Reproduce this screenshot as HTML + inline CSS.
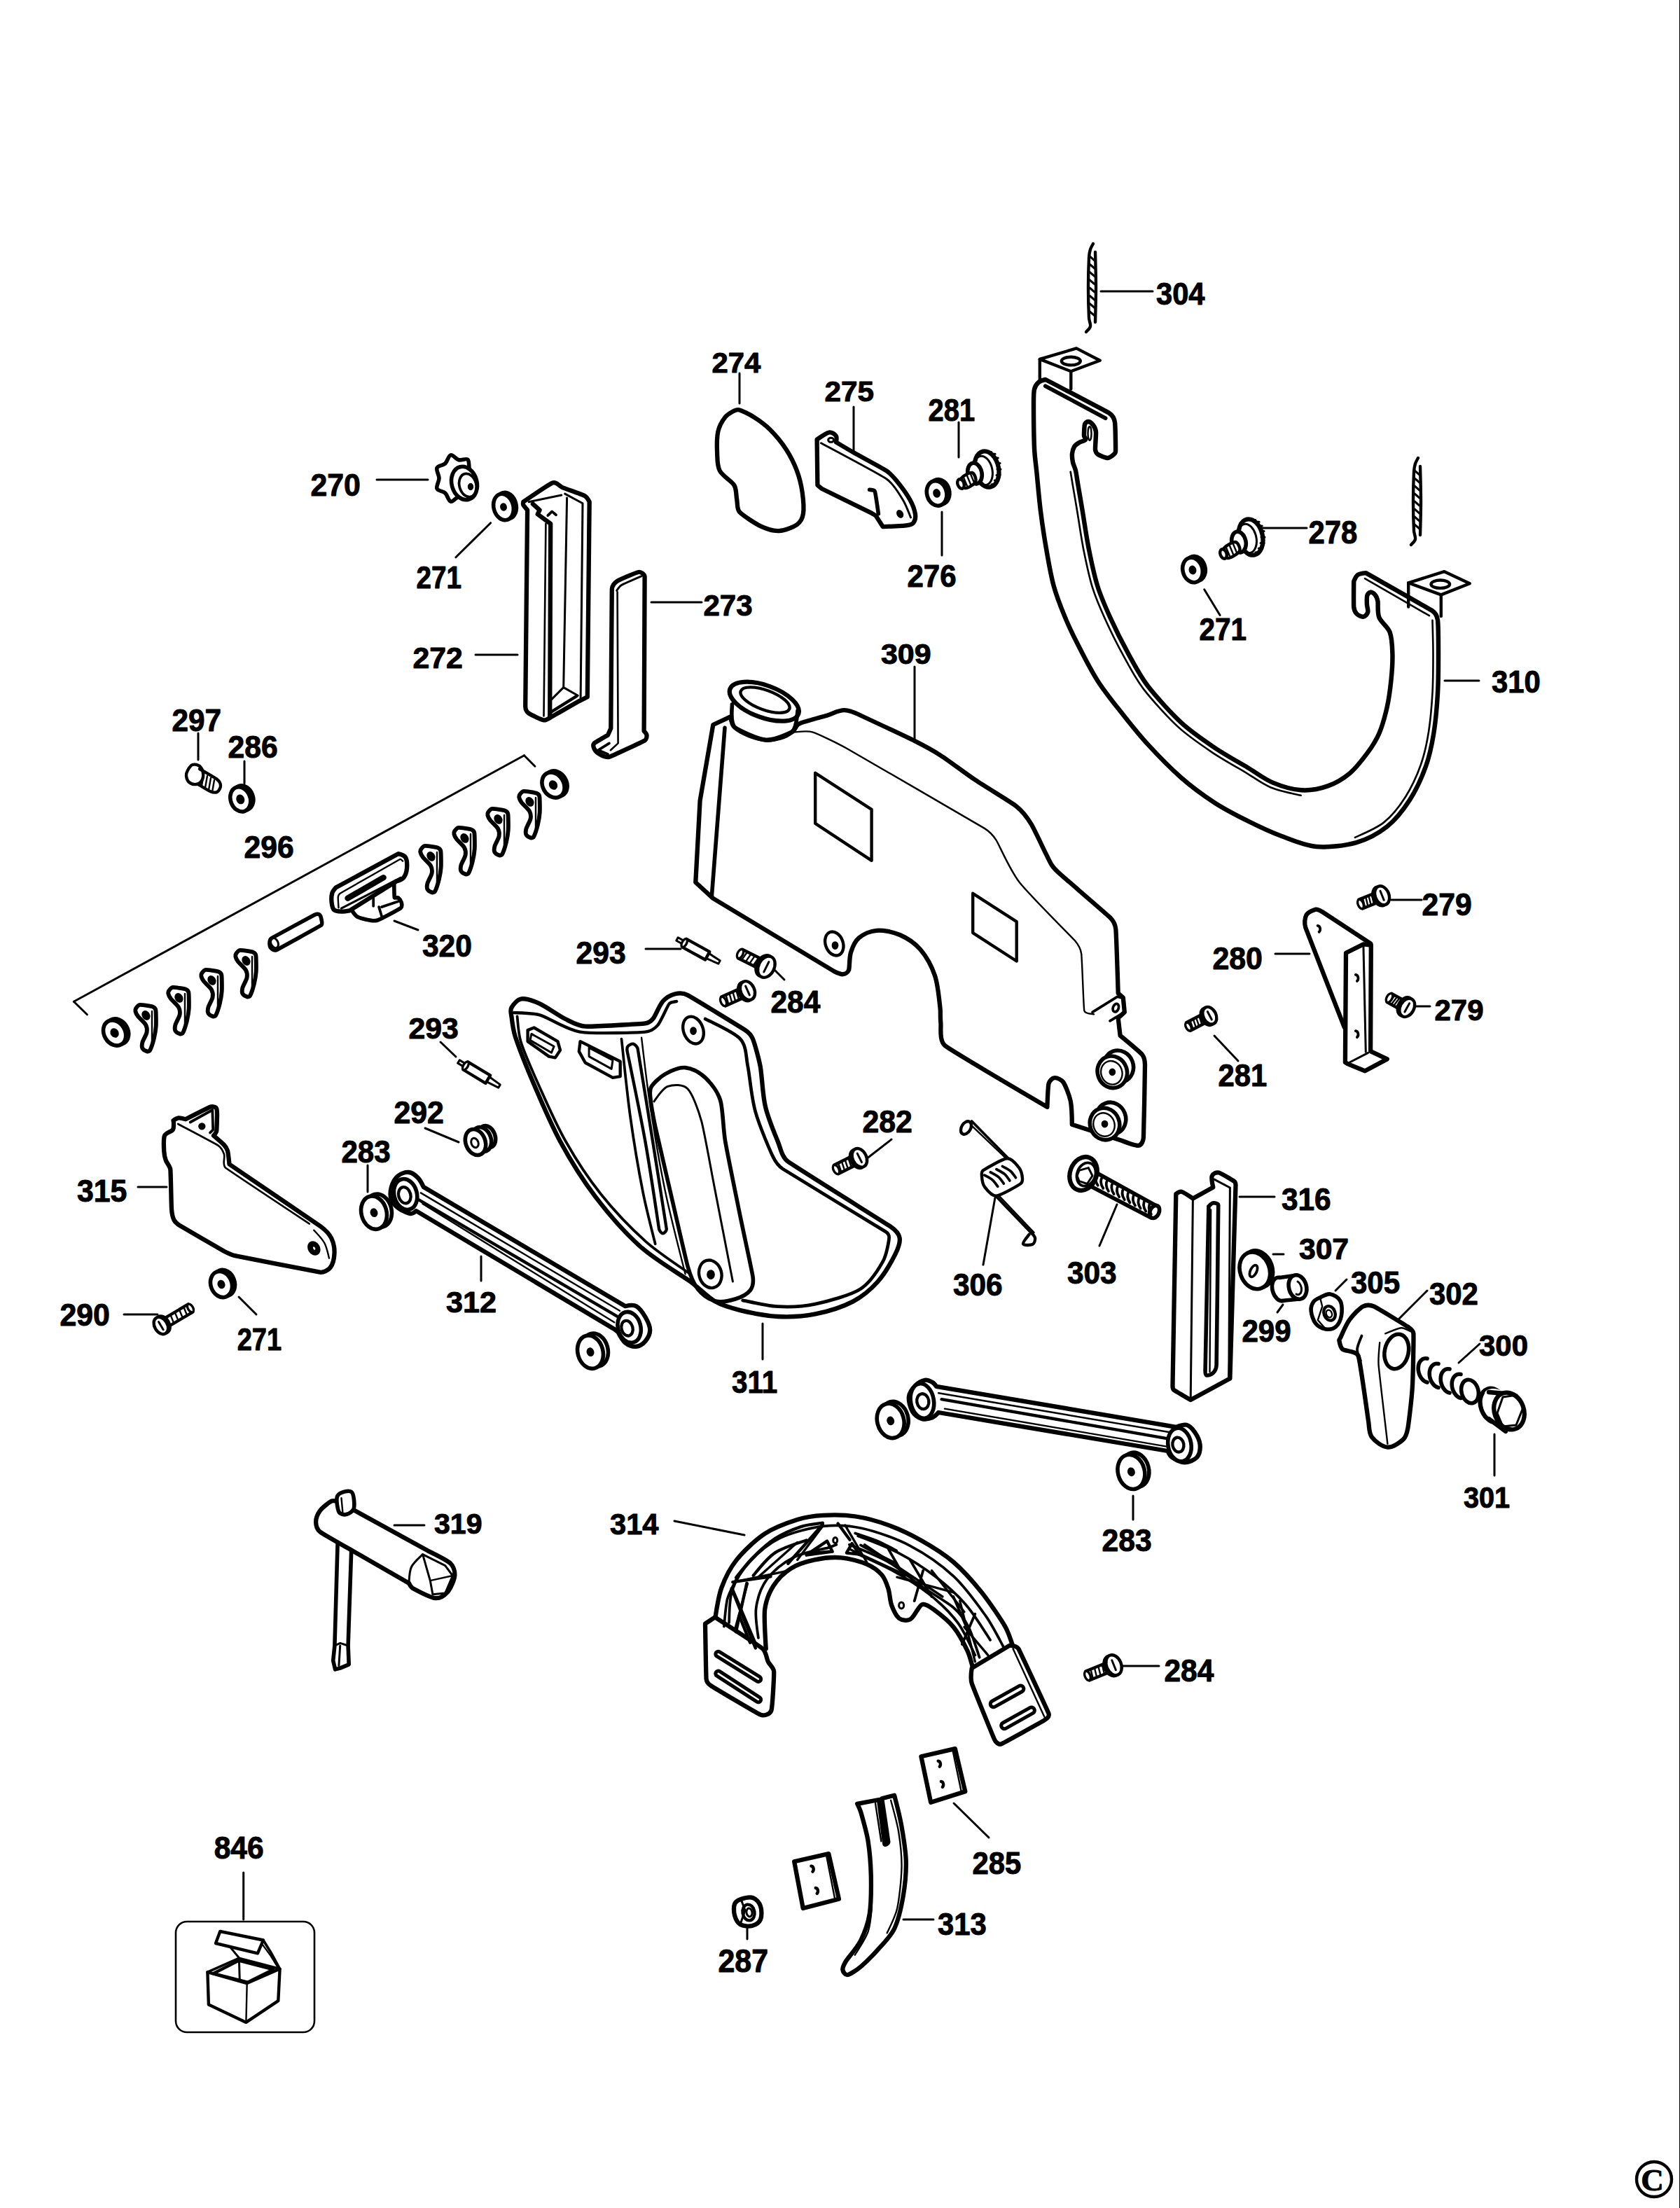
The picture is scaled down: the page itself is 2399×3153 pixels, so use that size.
<!DOCTYPE html>
<html><head><meta charset="utf-8"><style>
html,body{margin:0;padding:0;background:#fff;overflow:hidden}
svg{display:block}
text{font-family:"Liberation Sans",sans-serif;font-weight:bold;fill:#000}
</style></head><body>
<svg width="2399" height="3153" viewBox="0 0 2399 3153">
<rect width="2399" height="3153" fill="#fff"/>
<g stroke="#000" stroke-linejoin="round" stroke-linecap="round" fill="none">
<rect x="2398" y="0" width="1" height="3153" fill="#000" stroke="none"/>
<text transform="translate(1651.0,434.6) scale(0.953,1)" font-size="43.7">304</text>
<text transform="translate(1016.5,532.0) scale(1.010,1)" font-size="41.4">274</text>
<text transform="translate(1177.5,572.6) scale(1.037,1)" font-size="40.8">275</text>
<text transform="translate(1325.6,600.5) scale(0.885,1)" font-size="45.1">281</text>
<text transform="translate(443.5,707.5) scale(0.949,1)" font-size="45.1">270</text>
<text transform="translate(1868.5,775.5) scale(0.901,1)" font-size="46.5">278</text>
<text transform="translate(594.6,840.0) scale(0.872,1)" font-size="44.3">271</text>
<text transform="translate(1295.5,837.5) scale(0.932,1)" font-size="45.1">276</text>
<text transform="translate(1004.5,878.6) scale(0.994,1)" font-size="42.3">273</text>
<text transform="translate(1712.6,914.0) scale(0.914,1)" font-size="44.3">271</text>
<text transform="translate(589.5,954.0) scale(0.998,1)" font-size="42.9">272</text>
<text transform="translate(1257.9,947.6) scale(1.053,1)" font-size="40.8">309</text>
<text transform="translate(2130.0,988.5) scale(0.929,1)" font-size="45.1">310</text>
<text transform="translate(245.5,1043.5) scale(0.938,1)" font-size="45.1">297</text>
<text transform="translate(325.5,1081.5) scale(0.946,1)" font-size="45.1">286</text>
<text transform="translate(348.5,1224.6) scale(0.976,1)" font-size="43.7">296</text>
<text transform="translate(2030.5,1306.6) scale(0.976,1)" font-size="43.7">279</text>
<text transform="translate(602.9,1365.6) scale(0.973,1)" font-size="43.7">320</text>
<text transform="translate(822.5,1375.6) scale(0.976,1)" font-size="43.7">293</text>
<text transform="translate(1731.5,1383.6) scale(0.980,1)" font-size="43.7">280</text>
<text transform="translate(1100.5,1445.5) scale(0.942,1)" font-size="45.1">284</text>
<text transform="translate(2048.5,1456.6) scale(0.994,1)" font-size="42.3">279</text>
<text transform="translate(583.5,1482.6) scale(1.009,1)" font-size="42.3">293</text>
<text transform="translate(1739.5,1550.5) scale(0.926,1)" font-size="45.1">281</text>
<text transform="translate(562.5,1603.6) scale(0.980,1)" font-size="43.7">292</text>
<text transform="translate(1231.5,1616.5) scale(0.949,1)" font-size="45.1">282</text>
<text transform="translate(487.5,1659.6) scale(0.962,1)" font-size="43.7">283</text>
<text transform="translate(109.9,1715.6) scale(0.979,1)" font-size="43.7">315</text>
<text transform="translate(1829.9,1727.5) scale(0.940,1)" font-size="45.1">316</text>
<text transform="translate(1854.9,1797.6) scale(1.009,1)" font-size="42.3">307</text>
<text transform="translate(1523.9,1832.5) scale(0.940,1)" font-size="45.1">303</text>
<text transform="translate(1360.9,1849.5) scale(0.940,1)" font-size="45.1">306</text>
<text transform="translate(1928.9,1846.6) scale(0.964,1)" font-size="43.7">305</text>
<text transform="translate(2041.0,1862.6) scale(0.959,1)" font-size="43.7">302</text>
<text transform="translate(636.9,1873.6) scale(1.021,1)" font-size="42.3">312</text>
<text transform="translate(85.5,1892.6) scale(0.980,1)" font-size="43.7">290</text>
<text transform="translate(338.7,1928.0) scale(0.858,1)" font-size="44.3">271</text>
<text transform="translate(1773.5,1915.6) scale(0.962,1)" font-size="43.7">299</text>
<text transform="translate(2112.0,1935.6) scale(0.991,1)" font-size="42.3">300</text>
<text transform="translate(1045.0,1988.5) scale(0.896,1)" font-size="45.1">311</text>
<text transform="translate(2090.0,2152.6) scale(0.938,1)" font-size="42.3">301</text>
<text transform="translate(620.0,2189.6) scale(1.007,1)" font-size="40.8">319</text>
<text transform="translate(871.0,2190.6) scale(0.984,1)" font-size="42.3">314</text>
<text transform="translate(1573.5,2214.5) scale(0.946,1)" font-size="45.1">283</text>
<text transform="translate(1662.5,2400.5) scale(0.942,1)" font-size="45.1">284</text>
<text transform="translate(305.7,2653.5) scale(0.943,1)" font-size="45.1">846</text>
<text transform="translate(1388.5,2675.6) scale(0.956,1)" font-size="43.7">285</text>
<text transform="translate(1339.0,2762.6) scale(0.956,1)" font-size="43.7">313</text>
<text transform="translate(1025.5,2815.5) scale(0.923,1)" font-size="46.5">287</text>
<path d="M1477.0,556.0 C1477.9,552.2 1480.3,548.3 1483.0,546.0 C1485.7,543.7 1493.0,542.0 1493.0,542.0 C1493.0,542.0 1579.7,587.3 1584.0,590.0 C1588.3,592.7 1591.2,598.0 1592.0,603.0 C1592.8,608.0 1593.2,642.4 1593.0,645.0 C1592.8,647.6 1590.0,649.5 1588.0,651.0 C1586.0,652.5 1583.5,654.3 1581.0,654.0 C1578.5,653.7 1570.2,650.5 1568.0,649.0 C1565.8,647.5 1564.3,644.7 1564.0,642.0 C1563.7,639.3 1565.3,620.6 1565.0,617.0 C1564.7,613.4 1562.7,609.3 1561.0,607.0 C1559.3,604.7 1556.0,602.2 1554.0,602.0 C1552.0,601.8 1549.6,604.0 1549.0,606.0 C1548.4,608.0 1547.9,619.9 1548.0,622.0 C1548.1,624.1 1551.2,626.3 1550.0,628.0 C1548.8,629.7 1543.6,630.4 1541.0,632.0 C1538.4,633.6 1535.6,635.4 1534.0,638.0 C1532.4,640.6 1531.3,644.5 1531.0,648.0 C1530.7,651.5 1531.2,656.1 1532.0,660.0 C1532.8,663.9 1535.0,667.9 1536.0,672.0 C1537.0,676.1 1538.0,684.0 1539.0,690.0 C1540.0,696.0 1543.5,716.2 1545.7,729.3 C1547.9,742.4 1551.1,765.1 1554.6,782.9 C1558.1,800.7 1562.4,821.1 1567.1,836.4 C1571.8,851.7 1578.4,866.5 1585.0,881.1 C1591.6,895.7 1603.4,919.3 1611.8,934.6 C1620.2,949.9 1628.3,965.6 1639.0,979.5 C1649.7,993.4 1672.1,1018.4 1686.7,1031.9 C1701.3,1045.4 1719.0,1057.2 1734.3,1067.6 C1749.6,1078.0 1770.0,1089.1 1781.9,1096.2 C1793.8,1103.3 1804.9,1112.2 1817.6,1117.6 C1830.3,1122.9 1845.3,1127.5 1858.1,1128.3 C1870.9,1129.1 1884.8,1126.4 1896.2,1122.4 C1907.6,1118.4 1918.2,1111.9 1927.5,1104.2 C1936.8,1096.5 1945.7,1084.6 1952.3,1075.7 C1958.9,1066.8 1965.0,1057.4 1969.4,1047.2 C1973.8,1037.0 1978.0,1021.7 1980.8,1009.2 C1983.6,996.7 1985.2,983.7 1986.5,971.1 C1987.8,958.5 1988.7,943.3 1988.4,933.1 C1988.1,922.9 1987.6,910.8 1984.6,902.7 C1981.6,894.6 1972.2,888.9 1969.4,881.8 C1966.6,874.7 1968.1,862.3 1967.5,858.9 C1966.9,855.5 1965.3,851.4 1963.7,849.4 C1962.1,847.4 1958.9,845.4 1957.0,845.6 C1955.1,845.8 1952.9,848.3 1952.3,850.4 C1951.7,852.5 1951.8,858.8 1951.9,862.7 C1952.0,866.6 1954.1,871.2 1953.2,874.2 C1952.3,877.2 1949.3,880.5 1946.6,880.8 C1943.9,881.1 1939.2,878.5 1937.0,876.1 C1934.8,873.7 1933.5,870.0 1933.2,866.6 C1932.9,863.2 1933.2,830.4 1933.2,830.4 C1933.2,830.4 1936.0,822.9 1938.9,820.9 C1941.8,818.9 1950.4,818.1 1950.4,818.1 C1950.4,818.1 2041.1,869.5 2045.4,872.3 C2049.7,875.1 2052.3,880.5 2053.0,885.6 C2053.7,890.7 2054.0,917.3 2054.0,933.1 C2054.0,948.9 2054.1,971.1 2053.0,990.1 C2051.9,1009.1 2049.9,1031.1 2047.3,1047.2 C2044.7,1063.3 2041.4,1079.4 2035.9,1094.7 C2030.4,1110.0 2022.1,1128.3 2013.1,1142.3 C2004.1,1156.3 1993.5,1170.2 1980.8,1180.3 C1968.1,1190.4 1952.8,1198.6 1937.0,1203.1 C1921.2,1207.6 1897.5,1210.5 1880.0,1209.0 C1862.5,1207.5 1845.8,1199.9 1829.5,1193.8 C1813.2,1187.7 1797.5,1180.2 1781.9,1172.4 C1766.3,1164.6 1749.5,1156.1 1734.3,1146.2 C1719.1,1136.3 1701.6,1123.6 1686.7,1110.5 C1671.8,1097.4 1651.6,1076.6 1639.0,1062.9 C1626.4,1049.2 1614.8,1034.6 1603.3,1020.0 C1591.8,1005.4 1578.3,989.1 1567.6,972.4 C1556.9,955.7 1545.5,932.7 1539.0,920.0 C1532.5,907.3 1526.2,894.4 1520.7,881.1 C1515.2,867.8 1508.8,851.7 1504.6,836.4 C1500.4,821.1 1497.0,800.7 1493.9,782.9 C1490.8,765.1 1488.1,747.1 1485.9,729.3 C1483.7,711.5 1481.7,687.6 1480.5,675.7 C1479.3,663.8 1477.5,651.9 1477.0,640.0 C1476.5,628.1 1476.0,581.3 1476.0,575.0 C1476.0,568.7 1476.1,559.8 1477.0,556.0Z" stroke-width="6.4399999999999995" fill="none" />
<path d="M1528.7,673.7 C1529.0,675.5 1530.6,685.4 1531.6,691.3 C1532.6,697.1 1536.1,717.4 1538.3,730.5 C1540.5,743.6 1543.7,766.5 1547.2,784.4 C1550.8,802.2 1555.1,823.0 1559.9,838.6 C1564.8,854.3 1571.4,869.3 1578.2,884.2 C1584.9,899.1 1596.6,922.5 1605.2,938.2 C1613.8,953.9 1622.1,969.9 1633.1,984.1 C1644.0,998.2 1666.8,1023.7 1681.6,1037.4 C1696.4,1051.1 1714.7,1063.4 1730.1,1073.8 C1745.5,1084.3 1765.8,1095.3 1778.0,1102.6 C1790.2,1109.9 1801.6,1119.0 1814.7,1124.5 C1827.8,1130.0 1853.3,1134.7 1857.6,1135.8" stroke-width="2.64" fill="none" />
<path d="M2045.5,885.8 C2045.6,890.5 2046.5,917.3 2046.5,933.1 C2046.5,948.9 2046.6,970.8 2045.5,989.7 C2044.4,1008.5 2042.4,1030.4 2039.9,1046.0 C2037.4,1061.6 2034.2,1077.3 2028.8,1092.2 C2023.5,1107.1 2015.3,1124.9 2006.8,1138.2 C1998.3,1151.6 1988.1,1164.8 1976.1,1174.4 C1964.1,1184.0 1939.1,1193.7 1934.9,1195.9" stroke-width="2.64" fill="none" />
<path d="M1492.7,551.2 C1501.3,555.8 1570.1,592.6 1578.7,597.2" stroke-width="5.6" fill="none" />
<path d="M1949.0,826.2 C1958.2,831.5 2031.8,873.9 2041.0,879.2" stroke-width="2.64" fill="none" />
<ellipse cx="1556" cy="619" rx="2.5" ry="10" transform="rotate(0 1556 619)" stroke-width="2.4" fill="#fff"/>
<path d="M1484.8,512.9 L1537.1,497.4 L1570.7,514.8 L1529.3,530.3Z" stroke-width="4.375" fill="none" />
<line x1="1484.8" y1="512.9" x2="1484.8" y2="543.8" stroke-width="4.375"/>
<line x1="1529.3" y1="530.3" x2="1529.3" y2="555.4" stroke-width="4.375"/>
<ellipse cx="1529.3" cy="515.6" rx="13.5" ry="5.8" transform="rotate(0 1529.3 515.6)" stroke-width="4.375" fill="none"/>
<path d="M2011.2,832.3 L2062.5,816.2 L2098.7,833.3 L2057.8,849.4Z" stroke-width="4.375" fill="none" />
<line x1="2011.2" y1="832.3" x2="2011.2" y2="866.6" stroke-width="4.375"/>
<line x1="2057.8" y1="849.4" x2="2057.8" y2="879.9" stroke-width="4.375"/>
<ellipse cx="2056.8" cy="834.2" rx="13.3" ry="5.7" transform="rotate(0 2056.8 834.2)" stroke-width="4.375" fill="none"/>
<path d="M1018.3,1035.0 C1018.3,1035.0 1043.3,1023.3 1043.3,1023.3 C1043.3,1023.3 1044.9,1036.0 1049.6,1039.2 C1054.3,1042.3 1080.3,1055.7 1093.3,1056.7 C1106.3,1057.7 1126.5,1047.5 1130.8,1045.4 C1135.2,1043.3 1136.0,1036.8 1140.0,1034.2 C1144.0,1031.5 1150.5,1030.4 1155.8,1028.8 C1161.2,1027.1 1172.5,1024.1 1180.8,1021.7 C1189.1,1019.2 1197.5,1014.0 1205.8,1014.2 C1214.2,1014.3 1230.8,1022.5 1230.8,1022.5 C1230.8,1022.5 1293.0,1051.5 1305.8,1057.9 C1318.6,1064.3 1331.3,1071.0 1343.3,1078.8 C1355.4,1086.5 1376.4,1102.8 1393.3,1114.2 C1410.3,1125.6 1443.2,1144.9 1451.7,1151.7 C1460.2,1158.4 1466.9,1167.4 1472.5,1176.7 C1478.1,1186.0 1497.0,1227.5 1501.7,1235.0 C1506.3,1242.5 1513.8,1247.8 1520.4,1253.8 C1527.0,1259.7 1580.6,1305.6 1585.0,1310.0 C1589.4,1314.4 1592.7,1320.5 1593.3,1326.7 C1594.0,1332.8 1596.7,1418.3 1596.7,1418.3 C1596.7,1418.3 1603.8,1424.6 1603.8,1424.6 C1603.8,1424.6 1605.8,1445.4 1605.8,1445.4 C1605.8,1445.4 1596.7,1453.8 1596.7,1453.8 C1596.7,1453.8 1599.6,1478.8 1599.6,1478.8 C1599.6,1478.8 1627.6,1502.0 1630.8,1505.8 C1634.1,1509.7 1634.9,1515.4 1635.0,1520.4 C1635.1,1525.5 1633.3,1620.2 1632.9,1624.6 C1632.6,1629.0 1630.2,1635.2 1625.8,1635.8 C1621.4,1636.4 1601.7,1628.8 1601.7,1628.8 C1601.7,1628.8 1530.8,1605.8 1530.8,1605.8 C1530.8,1605.8 1530.7,1582.0 1528.8,1572.5 C1526.8,1563.0 1521.0,1549.3 1518.3,1545.4 C1515.7,1541.6 1509.3,1538.8 1505.8,1539.2 C1502.4,1539.5 1498.5,1543.7 1497.5,1547.5 C1496.5,1551.3 1495.4,1580.8 1495.4,1580.8 C1495.4,1580.8 1358.4,1500.4 1349.6,1493.3 C1340.7,1486.3 1344.2,1466.9 1343.3,1460.0 C1342.4,1453.1 1343.4,1446.1 1342.5,1439.2 C1341.6,1432.3 1339.6,1406.9 1335.0,1393.3 C1330.4,1379.8 1321.9,1364.9 1314.2,1355.8 C1306.4,1346.8 1295.4,1339.5 1285.0,1335.0 C1274.6,1330.5 1260.7,1328.1 1251.7,1328.8 C1242.7,1329.4 1232.7,1334.0 1226.7,1339.2 C1220.6,1344.3 1217.4,1352.4 1215.0,1360.0 C1212.6,1367.6 1213.3,1381.7 1212.1,1385.0 C1210.9,1388.3 1207.2,1390.9 1203.8,1391.2 C1200.3,1391.6 1191.2,1387.1 1191.2,1387.1 C1191.2,1387.1 1018.3,1282.9 1018.3,1282.9 C1018.3,1282.9 993.3,1260.0 993.3,1260.0 C993.3,1260.0 999.6,1143.3 999.6,1143.3 C999.6,1143.3 1018.3,1035.0 1018.3,1035.0Z" stroke-width="6.3" fill="none" />
<ellipse cx="1091.3" cy="1001.7" rx="52" ry="23" transform="rotate(20 1091.3 1001.7)" stroke-width="6.3" fill="#fff"/>
<ellipse cx="1092.5" cy="999.6" rx="37" ry="14" transform="rotate(20 1092.5 999.6)" stroke-width="4.375" fill="none"/>
<path d="M1045.4,1005.8 C1045.8,1009.2 1041.9,1031.0 1049.6,1039.2 C1057.3,1047.3 1080.3,1055.7 1093.3,1056.7 C1106.3,1057.7 1123.2,1052.5 1130.8,1045.4 C1138.5,1038.3 1138.3,1017.3 1139.2,1014.2" stroke-width="5.6" fill="none" />
<line x1="1035.0" y1="1039.1666666666667" x2="1016.25" y2="1280.8333333333335" stroke-width="5.6"/>
<path d="M1135.0,1045.4 C1137.5,1045.4 1152.1,1042.9 1160.0,1045.4 C1167.9,1047.9 1193.9,1060.2 1210.0,1069.2 C1226.1,1078.2 1399.1,1178.8 1405.8,1182.9 C1412.5,1187.0 1418.2,1193.0 1422.5,1199.6 C1426.8,1206.2 1441.7,1241.9 1455.8,1260.0 C1470.0,1278.1 1530.4,1338.1 1535.0,1343.3 C1539.6,1348.6 1543.2,1355.2 1544.2,1362.1 C1545.1,1369.0 1547.3,1438.6 1548.3,1443.3 C1549.3,1448.1 1560.7,1447.8 1562.1,1448.3" stroke-width="2.4" fill="none" />
<path d="M1164.2,1103.8 L1244.6,1155.8 L1244.6,1228.8 L1164.2,1175.8Z" stroke-width="4.375" fill="none" />
<path d="M1389.2,1275.8 L1451.7,1316.2 L1451.7,1372.5 L1389.2,1332.1Z" stroke-width="4.375" fill="none" />
<ellipse cx="1191.3" cy="1347.5" rx="12.5" ry="17.5" transform="rotate(-20 1191.3 1347.5)" stroke-width="4.375" fill="none"/>
<ellipse cx="1192.5" cy="1350" rx="3" ry="4" transform="rotate(0 1192.5 1350)" stroke-width="3.75" fill="#000"/>
<ellipse cx="1597.3333333333335" cy="1522.8333333333335" rx="21" ry="23" transform="rotate(-20 1597.3333333333335 1522.8333333333335)" stroke-width="5.6" fill="#fff"/>
<ellipse cx="1588.3333333333335" cy="1530.8333333333335" rx="21" ry="23" transform="rotate(-20 1588.3333333333335 1530.8333333333335)" stroke-width="5.6" fill="#fff"/>
<ellipse cx="1587.3333333333335" cy="1531.8333333333335" rx="15" ry="17" transform="rotate(-20 1587.3333333333335 1531.8333333333335)" stroke-width="2.4" fill="none"/>
<ellipse cx="1588.3333333333335" cy="1530.8333333333335" rx="3" ry="3.5" transform="rotate(0 1588.3333333333335 1530.8333333333335)" stroke-width="3.75" fill="#000"/>
<ellipse cx="1586.5" cy="1597.0" rx="21" ry="23" transform="rotate(-20 1586.5 1597.0)" stroke-width="5.6" fill="#fff"/>
<ellipse cx="1577.5" cy="1605.0" rx="21" ry="23" transform="rotate(-20 1577.5 1605.0)" stroke-width="5.6" fill="#fff"/>
<ellipse cx="1576.5" cy="1606.0" rx="15" ry="17" transform="rotate(-20 1576.5 1606.0)" stroke-width="2.4" fill="none"/>
<ellipse cx="1577.5" cy="1605.0" rx="3" ry="3.5" transform="rotate(0 1577.5 1605.0)" stroke-width="3.75" fill="#000"/>
<path d="M1560.0,1445.4 L1595.4,1423.3 L1605.0,1425.8 L1605.8,1445.4 L1585.0,1457.9" stroke-width="3.75" fill="none" />
<ellipse cx="1593.3333333333335" cy="1439.1666666666667" rx="4" ry="6" transform="rotate(20 1593.3333333333335 1439.1666666666667)" stroke-width="3.75" fill="none"/>
<line x1="1572" y1="416" x2="1646" y2="416" stroke-width="3"/>
<line x1="1056" y1="533" x2="1056" y2="576" stroke-width="3"/>
<line x1="1219" y1="581" x2="1219" y2="645" stroke-width="3"/>
<line x1="1369" y1="603" x2="1369" y2="653" stroke-width="3"/>
<line x1="538" y1="685" x2="611" y2="685" stroke-width="3"/>
<line x1="1800" y1="754" x2="1866" y2="754" stroke-width="3"/>
<line x1="700.6" y1="746.7" x2="650.9" y2="795.8" stroke-width="3"/>
<line x1="1345" y1="731" x2="1345" y2="793" stroke-width="3"/>
<line x1="930" y1="860" x2="1002" y2="860" stroke-width="3"/>
<line x1="1719.7" y1="841.8" x2="1742.1" y2="878.5" stroke-width="3"/>
<line x1="679" y1="935" x2="739" y2="935" stroke-width="3"/>
<line x1="1306" y1="952" x2="1306" y2="1058" stroke-width="3"/>
<line x1="2063" y1="972" x2="2112" y2="972" stroke-width="3"/>
<line x1="283" y1="1047" x2="283" y2="1085" stroke-width="3"/>
<line x1="349" y1="1087" x2="349" y2="1119" stroke-width="3"/>
<line x1="1987" y1="1285" x2="2030" y2="1285" stroke-width="3"/>
<line x1="563" y1="1315" x2="597" y2="1328" stroke-width="3"/>
<line x1="922" y1="1355" x2="972" y2="1355" stroke-width="3"/>
<line x1="1821" y1="1362" x2="1870" y2="1362" stroke-width="3"/>
<line x1="1106" y1="1385" x2="1120" y2="1399" stroke-width="3"/>
<line x1="2022" y1="1437" x2="2042" y2="1437" stroke-width="3"/>
<line x1="629" y1="1488" x2="651" y2="1509" stroke-width="3"/>
<line x1="1734" y1="1479" x2="1768" y2="1515" stroke-width="3"/>
<line x1="607" y1="1611" x2="655" y2="1631" stroke-width="3"/>
<line x1="1237" y1="1655" x2="1273" y2="1627" stroke-width="3"/>
<line x1="525" y1="1664" x2="525" y2="1702" stroke-width="3"/>
<line x1="197" y1="1695" x2="238" y2="1695" stroke-width="3"/>
<line x1="1770" y1="1709" x2="1820" y2="1709" stroke-width="3"/>
<line x1="1818" y1="1791" x2="1833" y2="1791" stroke-width="3"/>
<line x1="1595" y1="1720" x2="1570" y2="1779" stroke-width="3"/>
<line x1="1421" y1="1710" x2="1404" y2="1806" stroke-width="3"/>
<line x1="1907" y1="1843" x2="1923" y2="1827" stroke-width="3"/>
<line x1="2038" y1="1843" x2="1998" y2="1883" stroke-width="3"/>
<line x1="687" y1="1794" x2="687" y2="1829" stroke-width="3"/>
<line x1="177" y1="1877" x2="225" y2="1877" stroke-width="3"/>
<line x1="341" y1="1852" x2="366" y2="1877" stroke-width="3"/>
<line x1="1824" y1="1874" x2="1832" y2="1863" stroke-width="3"/>
<line x1="2083" y1="1946" x2="2113" y2="1919" stroke-width="3"/>
<line x1="1089" y1="1890" x2="1089" y2="1941" stroke-width="3"/>
<line x1="2134" y1="2048" x2="2134" y2="2107" stroke-width="3"/>
<line x1="563" y1="2178" x2="606" y2="2178" stroke-width="3"/>
<line x1="963" y1="2172" x2="1063" y2="2192" stroke-width="3"/>
<line x1="1618" y1="2136" x2="1618" y2="2170" stroke-width="3"/>
<line x1="1600" y1="2379" x2="1655" y2="2379" stroke-width="3"/>
<line x1="347.7" y1="2674" x2="347.7" y2="2741" stroke-width="3"/>
<line x1="1362" y1="2575" x2="1412" y2="2624" stroke-width="3"/>
<line x1="1290" y1="2741" x2="1333" y2="2741" stroke-width="3"/>
<line x1="1067" y1="2754" x2="1067" y2="2769" stroke-width="3"/>
<path d="M730.4,1438.9 C732.4,1435.3 738.4,1427.2 744.6,1426.4 C750.9,1425.6 763.0,1429.7 771.4,1433.6 C779.8,1437.4 798.0,1450.5 807.1,1455.0 C816.2,1459.5 825.6,1465.1 835.7,1465.7 C845.9,1466.3 917.0,1462.0 921.4,1461.4 C925.9,1460.9 930.1,1457.8 932.9,1454.3 C935.7,1450.8 941.8,1435.2 946.4,1430.0 C951.1,1424.8 958.5,1420.7 964.3,1419.3 C970.1,1417.8 976.8,1418.3 982.1,1421.1 C987.5,1423.8 1059.7,1468.0 1064.3,1471.1 C1068.8,1474.1 1072.9,1478.5 1075.0,1483.6 C1077.1,1488.6 1083.2,1509.5 1085.7,1522.9 C1088.2,1536.2 1088.8,1562.8 1092.9,1580.0 C1096.9,1597.2 1106.7,1620.1 1110.7,1630.0 C1114.7,1639.9 1116.5,1652.2 1125.0,1658.6 C1133.5,1665.0 1265.7,1747.5 1271.4,1751.4 C1277.2,1755.3 1283.5,1761.0 1284.6,1767.5 C1285.8,1774.0 1282.1,1783.6 1278.6,1790.7 C1275.0,1797.9 1263.7,1818.7 1253.6,1830.0 C1243.5,1841.3 1231.4,1851.5 1217.9,1858.6 C1204.3,1865.6 1181.8,1872.9 1164.3,1876.4 C1146.7,1879.9 1128.6,1880.9 1110.7,1880.0 C1092.9,1879.1 1069.4,1874.0 1057.1,1871.1 C1044.9,1868.1 1032.4,1864.9 1021.4,1858.6 C1010.5,1852.3 998.0,1839.0 985.7,1830.0 C973.4,1821.0 935.9,1799.4 914.3,1780.0 C892.6,1760.6 868.8,1733.3 850.0,1708.6 C831.2,1683.9 814.8,1657.3 800.0,1630.0 C785.2,1602.7 769.8,1565.4 760.7,1544.3 C751.7,1523.2 738.7,1489.2 735.7,1480.0 C732.7,1470.8 730.9,1455.6 730.4,1451.4 C729.8,1447.3 728.3,1442.5 730.4,1438.9Z" stroke-width="6.3" fill="none" />
<path d="M738.6,1451.4 C739.1,1455.0 740.0,1475.7 743.6,1487.1 C747.1,1498.6 759.6,1527.9 768.6,1547.9 C777.6,1567.8 793.0,1603.9 807.9,1630.0 C822.7,1656.1 839.1,1681.5 857.9,1705.0 C876.6,1728.5 902.6,1755.4 922.1,1772.9 C941.7,1790.3 979.4,1814.6 985.7,1819.3" stroke-width="3.75" fill="none" />
<path d="M733.9,1446.1 C737.7,1446.4 759.4,1446.1 771.4,1449.6 C783.5,1453.1 808.2,1470.3 828.6,1473.6 C849.0,1476.8 914.7,1474.2 921.4,1473.6 C928.2,1473.0 934.9,1469.1 939.3,1463.9 C943.7,1458.8 953.0,1436.5 955.4,1433.6 C957.7,1430.6 965.0,1430.4 966.1,1430.0" stroke-width="4.375" fill="none" />
<path d="M1007.1,1455.0 C1012.1,1457.9 1048.1,1473.5 1057.1,1483.6 C1066.2,1493.7 1065.1,1509.6 1067.9,1522.9 C1070.6,1536.1 1072.8,1566.2 1078.6,1587.1 C1084.4,1608.1 1100.3,1644.6 1103.6,1651.4 C1106.9,1658.3 1111.5,1665.1 1117.9,1669.3 C1124.2,1673.5 1261.4,1756.7 1264.3,1758.6 C1267.2,1760.5 1269.9,1764.0 1269.6,1767.5 C1269.4,1771.0 1266.4,1791.2 1260.7,1801.4 C1255.0,1811.6 1242.9,1831.7 1228.6,1840.7 C1214.3,1849.7 1181.8,1858.4 1164.3,1862.1 C1146.8,1865.9 1127.6,1866.6 1110.7,1865.7 C1093.8,1864.8 1065.7,1857.7 1060.7,1856.8" stroke-width="4.75" fill="none" />
<path d="M887.5,1483.6 C888.8,1494.6 895.0,1558.4 900.0,1594.3 C905.0,1630.1 912.9,1676.2 917.9,1701.4 C922.8,1726.6 933.9,1768.9 935.7,1776.4" stroke-width="3.75" fill="none" />
<path d="M916.1,1481.8 C917.3,1491.6 923.5,1547.4 928.6,1580.0 C933.6,1612.6 941.7,1661.9 950.0,1701.4 C958.3,1741.0 975.7,1807.5 978.6,1819.3" stroke-width="2.4" fill="none" />
<path d="M896.4,1494.3 C897.9,1492.5 901.9,1490.1 904.3,1490.7 C906.7,1491.3 910.1,1494.7 910.7,1497.9 C911.3,1501.0 925.5,1588.3 932.1,1630.0 C938.8,1671.7 951.5,1752.2 951.8,1755.0 C952.1,1757.8 948.2,1761.4 946.4,1761.4 C944.6,1761.4 941.6,1757.7 941.1,1755.0 C940.6,1752.3 928.9,1671.5 921.4,1630.0 C914.0,1588.5 896.1,1503.8 895.7,1501.4 C895.3,1499.1 895.0,1496.1 896.4,1494.3Z" stroke-width="4.375" fill="none" />
<path d="M930.4,1551.4 C933.0,1547.4 942.3,1537.9 950.0,1533.6 C957.7,1529.3 969.0,1523.8 978.6,1524.6 C988.1,1525.5 999.3,1531.7 1007.1,1538.9 C1014.9,1546.2 1024.7,1558.8 1028.6,1571.1 C1032.4,1583.4 1032.4,1610.5 1035.7,1630.0 C1039.1,1649.5 1051.3,1708.5 1057.1,1737.1 C1063.0,1765.7 1074.1,1816.3 1075.0,1822.9 C1075.9,1829.5 1075.5,1837.2 1071.4,1842.5 C1067.3,1847.8 1057.9,1852.6 1050.0,1855.0 C1042.1,1857.4 1030.4,1860.2 1021.4,1857.9 C1012.5,1855.5 1002.7,1848.6 996.4,1840.7 C990.1,1832.8 985.3,1819.9 982.1,1808.6 C979.0,1797.3 964.3,1732.4 957.1,1701.4 C950.0,1670.5 938.7,1622.7 935.7,1608.6 C932.7,1594.4 929.0,1570.5 928.6,1565.7 C928.1,1560.9 927.7,1555.4 930.4,1551.4Z" stroke-width="5.6" fill="none" />
<path d="M933.9,1572.9 C935.9,1570.7 945.5,1554.4 953.6,1551.4 C961.6,1548.5 975.5,1548.1 982.1,1555.0 C988.8,1561.9 997.4,1585.2 1001.8,1601.4 C1006.1,1617.7 1014.9,1668.1 1021.4,1701.4 C1027.9,1734.8 1043.9,1817.1 1046.4,1830.0" stroke-width="3.0" fill="none" />
<ellipse cx="1014.2857142857142" cy="1819.2857142857142" rx="16" ry="20" transform="rotate(-15 1014.2857142857142 1819.2857142857142)" stroke-width="4.375" fill="none"/>
<ellipse cx="1015.0" cy="1820.0" rx="4" ry="5" transform="rotate(0 1015.0 1820.0)" stroke-width="3.75" fill="#000"/>
<ellipse cx="990.0" cy="1471.0714285714287" rx="14" ry="20" transform="rotate(-20 990.0 1471.0714285714287)" stroke-width="4.375" fill="none"/>
<ellipse cx="990.0" cy="1472.142857142857" rx="3" ry="4" transform="rotate(0 990.0 1472.142857142857)" stroke-width="3.75" fill="#000"/>
<path d="M753.6,1471.1 L762.5,1467.5 L796.4,1487.1 L800.0,1499.6 L792.9,1510.4 L783.9,1508.6 L753.6,1487.1Z" stroke-width="4.375" fill="none" />
<path d="M758.9,1476.4 L791.1,1494.3 L787.5,1503.2 L757.1,1485.4Z" stroke-width="3.0" fill="none" />
<path d="M828.6,1487.1 L885.7,1515.7 L885.7,1537.1 L875.0,1538.9 L835.7,1517.5 L826.8,1501.4Z" stroke-width="4.375" fill="none" />
<path d="M841.1,1496.1 L875.0,1513.9 L873.2,1526.4 L841.1,1508.6Z" stroke-width="3.0" fill="none" />
<path d="M604.8,1695.0 C604.8,1695.0 892.9,1865.2 892.9,1865.2 C892.9,1865.2 904.0,1862.7 908.6,1865.2 C913.2,1867.8 918.4,1875.3 921.7,1881.0 C924.9,1886.6 928.2,1893.6 928.2,1899.3 C928.2,1905.0 924.9,1911.1 921.7,1915.0 C918.4,1918.9 913.4,1922.4 908.6,1922.9 C903.8,1923.3 897.2,1921.1 892.9,1917.6 C888.6,1914.2 882.4,1901.9 882.4,1901.9 C882.4,1901.9 877.2,1898.0 877.2,1898.0 C877.2,1898.0 594.3,1729.1 594.3,1729.1 C594.3,1729.1 589.3,1733.3 586.4,1733.0 C583.5,1732.7 575.3,1729.7 570.7,1726.4 C566.1,1723.2 560.9,1718.6 558.9,1713.3 C557.0,1708.1 557.4,1700.7 558.9,1695.0 C560.5,1689.3 564.0,1682.8 568.1,1679.3 C572.2,1675.8 579.0,1673.6 583.8,1674.0 C588.6,1674.5 593.4,1678.4 596.9,1681.9 C600.4,1685.4 604.8,1695.0 604.8,1695.0Z" stroke-width="6.3" fill="none" />
<path d="M600.8,1703.4 C629.3,1720.2 856.6,1855.0 885.0,1871.8" stroke-width="2.4" fill="none" />
<path d="M598.2,1713.3 C626.5,1730.0 852.8,1863.0 881.1,1879.7" stroke-width="4.375" fill="none" />
<path d="M603.5,1719.1 C630.8,1736.0 849.8,1871.4 877.2,1888.3" stroke-width="2.4" fill="none" />
<ellipse cx="579.0990047145102" cy="1705.4793085385018" rx="16.2" ry="22.3" transform="rotate(-15 579.0990047145102 1705.4793085385018)" stroke-width="5.6" fill="#fff"/>
<ellipse cx="577.7894185437402" cy="1706.788894709272" rx="8.6" ry="11.8" transform="rotate(-15 577.7894185437402 1706.788894709272)" stroke-width="4.375" fill="none"/>
<ellipse cx="898.6380303823992" cy="1895.369303300157" rx="16.2" ry="22.3" transform="rotate(-15 898.6380303823992 1895.369303300157)" stroke-width="5.6" fill="#fff"/>
<ellipse cx="895.4950235725511" cy="1896.678889470927" rx="8" ry="11" transform="rotate(-15 895.4950235725511 1896.678889470927)" stroke-width="4.375" fill="none"/>
<ellipse cx="541" cy="1728.7" rx="18" ry="24" transform="rotate(-15 541 1728.7)" stroke-width="5.6" fill="#fff"/>
<ellipse cx="534" cy="1731.7" rx="18" ry="24" transform="rotate(-15 534 1731.7)" stroke-width="5.6" fill="#fff"/>
<ellipse cx="534" cy="1731.7" rx="3.5" ry="4.55" transform="rotate(-15 534 1731.7)" stroke-width="3.75" fill="#000"/>
<ellipse cx="850" cy="1927.7" rx="18" ry="24" transform="rotate(-15 850 1927.7)" stroke-width="5.6" fill="#fff"/>
<ellipse cx="843" cy="1930.7" rx="18" ry="24" transform="rotate(-15 843 1930.7)" stroke-width="5.6" fill="#fff"/>
<ellipse cx="843" cy="1930.7" rx="3.5" ry="4.55" transform="rotate(-15 843 1930.7)" stroke-width="3.75" fill="#000"/>
<path d="M1337.1,1979.8 C1337.1,1979.8 1679.4,2037.8 1679.4,2037.8 C1679.4,2037.8 1689.8,2033.6 1694.3,2034.8 C1698.8,2036.1 1703.2,2040.9 1706.2,2045.2 C1709.2,2049.6 1713.1,2057.1 1713.6,2063.1 C1714.1,2069.0 1712.9,2076.7 1709.2,2081.0 C1705.4,2085.2 1697.3,2088.4 1691.3,2088.4 C1685.4,2088.4 1676.4,2083.0 1673.5,2081.0 C1670.5,2078.9 1667.5,2072.0 1667.5,2072.0 C1667.5,2072.0 1340.1,2017.0 1340.1,2017.0 C1340.1,2017.0 1334.8,2023.0 1331.2,2024.4 C1327.6,2025.8 1321.0,2027.4 1316.3,2025.9 C1311.6,2024.4 1305.8,2020.3 1302.9,2015.5 C1300.0,2010.6 1297.1,2000.8 1297.9,1994.6 C1298.6,1988.4 1303.8,1982.0 1307.4,1978.3 C1310.9,1974.6 1317.2,1971.5 1320.8,1970.8 C1324.3,1970.2 1328.7,1972.5 1331.2,1973.8 C1333.7,1975.2 1337.1,1979.8 1337.1,1979.8Z" stroke-width="6.3" fill="none" />
<path d="M1340.1,1989.3 C1373.5,1994.9 1640.1,2040.2 1673.5,2045.8" stroke-width="2.4" fill="none" />
<path d="M1344.6,1998.2 C1377.2,2003.9 1637.9,2049.1 1670.5,2054.8" stroke-width="4.375" fill="none" />
<path d="M1349.0,2011.6 C1381.0,2017.1 1637.0,2060.6 1669.0,2066.1" stroke-width="2.4" fill="none" />
<ellipse cx="1316.904761904762" cy="2000.595238095238" rx="16.5" ry="25" transform="rotate(-10 1316.904761904762 2000.595238095238)" stroke-width="5.6" fill="#fff"/>
<ellipse cx="1317.797619047619" cy="2001.1904761904761" rx="8.5" ry="11" transform="rotate(-10 1317.797619047619 2001.1904761904761)" stroke-width="4.375" fill="none"/>
<ellipse cx="1684.4642857142858" cy="2063.095238095238" rx="16.5" ry="24" transform="rotate(-10 1684.4642857142858 2063.095238095238)" stroke-width="5.6" fill="#fff"/>
<ellipse cx="1682.3809523809523" cy="2063.095238095238" rx="8" ry="10.5" transform="rotate(-10 1682.3809523809523 2063.095238095238)" stroke-width="4.375" fill="none"/>
<ellipse cx="1277.7" cy="2025.9" rx="19" ry="25" transform="rotate(-15 1277.7 2025.9)" stroke-width="5.6" fill="#fff"/>
<ellipse cx="1271.7" cy="2028.9" rx="19" ry="25" transform="rotate(-15 1271.7 2028.9)" stroke-width="5.6" fill="#fff"/>
<ellipse cx="1271.7" cy="2028.9" rx="3.5" ry="4.55" transform="rotate(-15 1271.7 2028.9)" stroke-width="3.75" fill="#000"/>
<ellipse cx="1621.4" cy="2098.8" rx="19" ry="25" transform="rotate(-15 1621.4 2098.8)" stroke-width="5.6" fill="#fff"/>
<ellipse cx="1615.4" cy="2101.8" rx="19" ry="25" transform="rotate(-15 1615.4 2101.8)" stroke-width="5.6" fill="#fff"/>
<ellipse cx="1615.4" cy="2101.8" rx="3.5" ry="4.55" transform="rotate(-15 1615.4 2101.8)" stroke-width="3.75" fill="#000"/>
<path d="M247.5,1600.0 C247.5,1600.0 252.2,1596.6 255.0,1596.3 C257.8,1596.1 265.0,1598.3 265.0,1598.3 C265.0,1598.3 297.4,1581.8 300.0,1580.8 C302.6,1579.8 306.7,1580.1 308.3,1581.7 C310.0,1583.2 309.9,1587.2 310.0,1590.0 C310.1,1592.8 309.6,1612.4 309.2,1615.0 C308.8,1617.6 305.0,1621.7 305.0,1621.7 C305.0,1621.7 317.8,1632.6 320.0,1635.0 C322.2,1637.4 324.1,1640.2 325.0,1643.3 C325.9,1646.5 327.5,1662.5 327.5,1662.5 C327.5,1662.5 452.3,1747.3 458.3,1751.7 C464.4,1756.1 470.1,1761.9 473.3,1768.3 C476.5,1774.7 477.8,1783.1 477.5,1790.0 C477.2,1796.9 475.0,1805.7 471.7,1810.0 C468.3,1814.3 462.1,1817.3 456.7,1816.7 C451.2,1816.0 342.5,1794.6 336.7,1793.3 C330.8,1792.1 325.3,1789.5 320.0,1786.7 C314.7,1783.8 260.0,1752.1 256.7,1750.0 C253.3,1747.9 250.1,1745.2 248.3,1741.7 C246.6,1738.2 245.4,1731.8 245.0,1726.7 C244.6,1721.6 243.9,1674.9 243.3,1670.0 C242.7,1665.1 238.1,1660.9 236.7,1656.7 C235.2,1652.4 234.4,1647.9 234.2,1643.3 C234.0,1638.8 233.2,1626.1 235.0,1621.7 C236.8,1617.3 244.7,1616.1 246.7,1613.3 C248.6,1610.6 247.9,1604.5 248.0,1603.3 C248.1,1602.2 247.5,1600.0 247.5,1600.0Z" stroke-width="6.3" fill="none" />
<path d="M254.2,1605.0 C259.9,1608.1 307.5,1633.1 311.7,1635.8 C315.8,1638.6 318.4,1643.6 320.0,1648.3 C321.6,1653.1 317.0,1663.4 322.0,1667.5 C327.0,1671.6 429.7,1739.5 441.7,1747.5" stroke-width="2.64" fill="none" />
<path d="M448.3,1756.7 C449.8,1758.5 459.7,1768.4 463.3,1775.0 C466.9,1781.6 469.3,1794.5 470.0,1796.7" stroke-width="2.4" fill="none" />
<path d="M271.7,1602.5 L303.3,1585.0 L304.2,1613.3 L300.0,1617.5" stroke-width="3.75" fill="none" />
<ellipse cx="288.3333333333333" cy="1608.3333333333333" rx="4" ry="4" transform="rotate(0 288.3333333333333 1608.3333333333333)" stroke-width="2.4" fill="#000"/>
<ellipse cx="448.33333333333337" cy="1782.5" rx="6.5" ry="8.5" transform="rotate(-30 448.33333333333337 1782.5)" stroke-width="4.375" fill="#000"/>
<ellipse cx="448.66666666666663" cy="1782.5" rx="2" ry="3" transform="rotate(-30 448.66666666666663 1782.5)" stroke-width="1.2" fill="#fff"/>
<line x1="105.4" y1="1430.3" x2="748.5" y2="1078.8" stroke-width="3"/>
<line x1="748.5" y1="1078.8" x2="763.9" y2="1094.2" stroke-width="3"/>
<line x1="105.4" y1="1430.3" x2="124.4" y2="1448.8" stroke-width="3"/>
<path d="M194.1,1439.9 C194.9,1438.7 197.4,1435.1 199.9,1434.9 C202.4,1434.7 216.4,1437.0 218.4,1437.7 C220.4,1438.4 222.1,1440.6 222.4,1442.7 C222.7,1444.8 223.1,1459.8 222.7,1465.6 C222.3,1471.4 221.3,1477.1 219.9,1482.7 C218.5,1488.3 214.8,1498.6 214.1,1499.9 C213.4,1501.2 211.3,1501.7 209.9,1501.3 C208.5,1500.9 204.5,1499.2 203.4,1497.0 C202.3,1494.8 202.7,1491.2 203.4,1488.4 C204.1,1485.6 208.9,1477.6 209.6,1474.1 C210.3,1470.6 209.8,1466.6 208.1,1463.4 C206.4,1460.2 198.6,1453.4 197.0,1451.3 C195.4,1449.2 193.7,1445.5 193.4,1444.1 C193.1,1442.7 193.3,1441.1 194.1,1439.9Z" stroke-width="5.88" fill="none" />
<line x1="217" y1="1444" x2="217" y2="1487" stroke-width="2.4"/>
<ellipse cx="208.4" cy="1449.9" rx="4.5" ry="6" transform="rotate(-30 208.4 1449.9)" stroke-width="2.4" fill="#000"/>
<path d="M241.1,1414.9 C241.9,1413.7 244.4,1410.1 246.9,1409.9 C249.4,1409.7 263.4,1412.0 265.4,1412.7 C267.4,1413.4 269.1,1415.6 269.4,1417.7 C269.7,1419.8 270.1,1434.8 269.7,1440.6 C269.3,1446.4 268.3,1452.1 266.9,1457.7 C265.5,1463.3 261.8,1473.6 261.1,1474.9 C260.4,1476.2 258.3,1476.7 256.9,1476.3 C255.5,1475.9 251.5,1474.2 250.4,1472.0 C249.3,1469.8 249.7,1466.2 250.4,1463.4 C251.1,1460.6 255.9,1452.6 256.6,1449.1 C257.3,1445.6 256.8,1441.6 255.1,1438.4 C253.4,1435.2 245.6,1428.4 244.0,1426.3 C242.4,1424.2 240.7,1420.5 240.4,1419.1 C240.1,1417.7 240.3,1416.1 241.1,1414.9Z" stroke-width="5.88" fill="none" />
<line x1="264" y1="1419" x2="264" y2="1462" stroke-width="2.4"/>
<ellipse cx="255.4" cy="1424.9" rx="4.5" ry="6" transform="rotate(-30 255.4 1424.9)" stroke-width="2.4" fill="#000"/>
<path d="M288.1,1389.9 C288.9,1388.7 291.4,1385.1 293.9,1384.9 C296.4,1384.7 310.4,1387.0 312.4,1387.7 C314.4,1388.4 316.1,1390.6 316.4,1392.7 C316.7,1394.8 317.1,1409.8 316.7,1415.6 C316.3,1421.4 315.3,1427.1 313.9,1432.7 C312.5,1438.3 308.8,1448.6 308.1,1449.9 C307.4,1451.2 305.3,1451.7 303.9,1451.3 C302.5,1450.9 298.5,1449.2 297.4,1447.0 C296.3,1444.8 296.7,1441.2 297.4,1438.4 C298.1,1435.6 302.9,1427.6 303.6,1424.1 C304.3,1420.6 303.8,1416.6 302.1,1413.4 C300.4,1410.2 292.6,1403.4 291.0,1401.3 C289.4,1399.2 287.7,1395.5 287.4,1394.1 C287.1,1392.7 287.3,1391.1 288.1,1389.9Z" stroke-width="5.88" fill="none" />
<line x1="311" y1="1394" x2="311" y2="1437" stroke-width="2.4"/>
<ellipse cx="302.4" cy="1399.9" rx="4.5" ry="6" transform="rotate(-30 302.4 1399.9)" stroke-width="2.4" fill="#000"/>
<path d="M337.1,1361.9 C337.9,1360.7 340.4,1357.1 342.9,1356.9 C345.4,1356.7 359.4,1359.0 361.4,1359.7 C363.4,1360.4 365.1,1362.6 365.4,1364.7 C365.7,1366.8 366.1,1381.8 365.7,1387.6 C365.3,1393.4 364.3,1399.1 362.9,1404.7 C361.5,1410.3 357.8,1420.6 357.1,1421.9 C356.4,1423.2 354.3,1423.7 352.9,1423.3 C351.5,1422.9 347.5,1421.2 346.4,1419.0 C345.3,1416.8 345.7,1413.2 346.4,1410.4 C347.1,1407.6 351.9,1399.6 352.6,1396.1 C353.3,1392.6 352.8,1388.6 351.1,1385.4 C349.4,1382.2 341.6,1375.4 340.0,1373.3 C338.4,1371.2 336.7,1367.5 336.4,1366.1 C336.1,1364.7 336.3,1363.1 337.1,1361.9Z" stroke-width="5.88" fill="none" />
<line x1="360" y1="1366" x2="360" y2="1409" stroke-width="2.4"/>
<ellipse cx="351.4" cy="1371.9" rx="4.5" ry="6" transform="rotate(-30 351.4 1371.9)" stroke-width="2.4" fill="#000"/>
<path d="M601.1,1212.9 C601.9,1211.7 604.4,1208.1 606.9,1207.9 C609.4,1207.7 623.4,1210.0 625.4,1210.7 C627.4,1211.4 629.1,1213.6 629.4,1215.7 C629.7,1217.8 630.1,1232.8 629.7,1238.6 C629.3,1244.4 628.3,1250.1 626.9,1255.7 C625.5,1261.3 621.8,1271.6 621.1,1272.9 C620.4,1274.2 618.3,1274.7 616.9,1274.3 C615.5,1273.9 611.5,1272.2 610.4,1270.0 C609.3,1267.8 609.7,1264.2 610.4,1261.4 C611.1,1258.6 615.9,1250.6 616.6,1247.1 C617.3,1243.6 616.8,1239.6 615.1,1236.4 C613.4,1233.2 605.6,1226.4 604.0,1224.3 C602.4,1222.2 600.7,1218.5 600.4,1217.1 C600.1,1215.7 600.3,1214.1 601.1,1212.9Z" stroke-width="5.88" fill="none" />
<line x1="624" y1="1217" x2="624" y2="1260" stroke-width="2.4"/>
<ellipse cx="615.4" cy="1222.9" rx="4.5" ry="6" transform="rotate(-30 615.4 1222.9)" stroke-width="2.4" fill="#000"/>
<path d="M649.1,1186.9 C649.9,1185.7 652.4,1182.1 654.9,1181.9 C657.4,1181.7 671.4,1184.0 673.4,1184.7 C675.4,1185.4 677.1,1187.6 677.4,1189.7 C677.7,1191.8 678.1,1206.8 677.7,1212.6 C677.3,1218.4 676.3,1224.1 674.9,1229.7 C673.5,1235.3 669.8,1245.6 669.1,1246.9 C668.4,1248.2 666.3,1248.7 664.9,1248.3 C663.5,1247.9 659.5,1246.2 658.4,1244.0 C657.3,1241.8 657.7,1238.2 658.4,1235.4 C659.1,1232.6 663.9,1224.6 664.6,1221.1 C665.3,1217.6 664.8,1213.6 663.1,1210.4 C661.4,1207.2 653.6,1200.4 652.0,1198.3 C650.4,1196.2 648.7,1192.5 648.4,1191.1 C648.1,1189.7 648.3,1188.1 649.1,1186.9Z" stroke-width="5.88" fill="none" />
<line x1="672" y1="1191" x2="672" y2="1234" stroke-width="2.4"/>
<ellipse cx="663.4" cy="1196.9" rx="4.5" ry="6" transform="rotate(-30 663.4 1196.9)" stroke-width="2.4" fill="#000"/>
<path d="M697.1,1159.9 C697.9,1158.7 700.4,1155.1 702.9,1154.9 C705.4,1154.7 719.4,1157.0 721.4,1157.7 C723.4,1158.4 725.1,1160.6 725.4,1162.7 C725.7,1164.8 726.1,1179.8 725.7,1185.6 C725.3,1191.4 724.3,1197.1 722.9,1202.7 C721.5,1208.3 717.8,1218.6 717.1,1219.9 C716.4,1221.2 714.3,1221.7 712.9,1221.3 C711.5,1220.9 707.5,1219.2 706.4,1217.0 C705.3,1214.8 705.7,1211.2 706.4,1208.4 C707.1,1205.6 711.9,1197.6 712.6,1194.1 C713.3,1190.6 712.8,1186.6 711.1,1183.4 C709.4,1180.2 701.6,1173.4 700.0,1171.3 C698.4,1169.2 696.7,1165.5 696.4,1164.1 C696.1,1162.7 696.3,1161.1 697.1,1159.9Z" stroke-width="5.88" fill="none" />
<line x1="720" y1="1164" x2="720" y2="1207" stroke-width="2.4"/>
<ellipse cx="711.4" cy="1169.9" rx="4.5" ry="6" transform="rotate(-30 711.4 1169.9)" stroke-width="2.4" fill="#000"/>
<path d="M742.1,1134.9 C742.9,1133.7 745.4,1130.1 747.9,1129.9 C750.4,1129.7 764.4,1132.0 766.4,1132.7 C768.4,1133.4 770.1,1135.6 770.4,1137.7 C770.7,1139.8 771.1,1154.8 770.7,1160.6 C770.3,1166.4 769.3,1172.1 767.9,1177.7 C766.5,1183.3 762.8,1193.6 762.1,1194.9 C761.4,1196.2 759.3,1196.7 757.9,1196.3 C756.5,1195.9 752.5,1194.2 751.4,1192.0 C750.3,1189.8 750.7,1186.2 751.4,1183.4 C752.1,1180.6 756.9,1172.6 757.6,1169.1 C758.3,1165.6 757.8,1161.6 756.1,1158.4 C754.4,1155.2 746.6,1148.4 745.0,1146.3 C743.4,1144.2 741.7,1140.5 741.4,1139.1 C741.1,1137.7 741.3,1136.1 742.1,1134.9Z" stroke-width="5.88" fill="none" />
<line x1="765" y1="1139" x2="765" y2="1182" stroke-width="2.4"/>
<ellipse cx="756.4" cy="1144.9" rx="4.5" ry="6" transform="rotate(-30 756.4 1144.9)" stroke-width="2.4" fill="#000"/>
<ellipse cx="167.6" cy="1473" rx="15" ry="19" transform="rotate(-30 167.6 1473)" stroke-width="5.6" fill="#fff"/>
<ellipse cx="163.6" cy="1475" rx="15" ry="19" transform="rotate(-30 163.6 1475)" stroke-width="5.6" fill="#fff"/>
<ellipse cx="163.6" cy="1475" rx="4" ry="5.2" transform="rotate(-30 163.6 1475)" stroke-width="3.75" fill="#000"/>
<ellipse cx="794" cy="1119" rx="15" ry="19" transform="rotate(-30 794 1119)" stroke-width="5.6" fill="#fff"/>
<ellipse cx="790" cy="1121" rx="15" ry="19" transform="rotate(-30 790 1121)" stroke-width="5.6" fill="#fff"/>
<ellipse cx="790" cy="1121" rx="4" ry="5.2" transform="rotate(-30 790 1121)" stroke-width="3.75" fill="#000"/>
<path d="M387.9,1339.6 C389.9,1338.4 447.4,1307.3 449.4,1306.3 C451.4,1305.3 454.4,1304.9 456.0,1306.0 C457.6,1307.1 458.6,1310.5 459.0,1313.0 C459.4,1315.5 460.9,1319.7 458.6,1321.3 C456.3,1322.9 396.8,1355.6 394.4,1356.7 C392.0,1357.8 388.6,1355.8 387.0,1354.0 C385.4,1352.2 384.9,1348.3 385.0,1346.0 C385.1,1343.7 385.9,1340.8 387.9,1339.6Z" stroke-width="5.6" fill="none" />
<ellipse cx="392" cy="1346.5" rx="5" ry="7.5" transform="rotate(-25 392 1346.5)" stroke-width="3.0" fill="none"/>
<path d="M501.8,1299.1 C502.7,1300.1 506.8,1307.5 511.0,1309.5 C515.1,1311.5 529.4,1314.8 534.5,1314.8 C539.6,1314.8 544.3,1311.7 548.9,1309.5 C553.5,1307.3 570.5,1298.2 572.5,1296.4 C574.5,1294.7 573.8,1291.0 573.2,1288.6 C572.5,1286.2 570.0,1283.1 568.6,1282.0 C567.2,1281.0 563.8,1283.1 563.3,1281.4 C562.9,1279.7 562.8,1261.9 562.7,1259.8" stroke-width="5.6" fill="none" />
<path d="M533.2,1275.5 L533.2,1293.8" stroke-width="3.75" fill="none" />
<path d="M541.1,1295.1 L545.0,1308.2" stroke-width="3.75" fill="none" />
<path d="M545.0,1295.1 L568.6,1287.3" stroke-width="3.75" fill="none" />
<path d="M474.3,1275.5 C475.1,1272.4 479.5,1267.6 479.5,1267.6 C479.5,1267.6 568.6,1219.2 568.6,1219.2 C568.6,1219.2 577.1,1221.0 579.1,1224.4 C581.1,1227.8 581.4,1235.5 581.0,1240.1 C580.6,1244.7 578.9,1250.2 576.4,1253.2 C574.0,1256.2 566.0,1258.5 566.0,1258.5 C566.0,1258.5 499.2,1300.4 499.2,1300.4 C499.2,1300.4 491.0,1301.9 487.4,1301.7 C483.8,1301.5 479.2,1301.2 476.9,1299.1 C474.6,1296.9 474.0,1292.2 473.6,1288.6 C473.2,1284.9 473.4,1278.5 474.3,1275.5Z" stroke-width="6.3" fill="#fff" />
<path d="M483.5,1296.4 C483.4,1294.9 482.5,1282.8 482.8,1280.7 C483.1,1278.7 484.3,1276.5 486.1,1275.5 C487.8,1274.4 569.8,1227.7 571.2,1227.0 C572.6,1226.3 574.7,1229.4 575.1,1229.6" stroke-width="2.4" fill="none" />
<path d="M487.4,1297.1 L572.5,1253.2" stroke-width="3.0" fill="none" />
<line x1="496.5531691985333" y1="1282.682032477737" x2="547.6270298585647" y2="1253.2163436354112" stroke-width="8.399999999999999"/>
<path d="M268.0,1100.0 C269.3,1097.6 272.2,1093.0 275.0,1092.0 C277.8,1091.0 282.5,1092.0 285.0,1094.0 C287.5,1096.0 289.5,1100.5 290.0,1104.0 C290.5,1107.5 289.7,1112.3 288.0,1115.0 C286.3,1117.7 283.0,1119.7 280.0,1120.0 C277.0,1120.3 272.3,1119.0 270.0,1117.0 C267.7,1115.0 266.3,1110.7 266.0,1108.0 C265.7,1105.3 266.7,1102.4 268.0,1100.0Z" stroke-width="4.375" fill="none" />
<path d="M285.0,1098.0 C287.5,1099.5 307.3,1110.9 310.0,1113.0 C312.7,1115.1 315.0,1119.0 315.0,1122.0 C315.0,1125.0 312.5,1129.7 310.0,1131.0 C307.5,1132.3 303.1,1131.3 300.0,1130.0 C296.9,1128.7 284.7,1121.0 283.0,1120.0" stroke-width="4.375" fill="none" />
<line x1="291" y1="1105" x2="288" y2="1122" stroke-width="2.4"/>
<line x1="296" y1="1108" x2="293" y2="1125" stroke-width="2.4"/>
<line x1="301" y1="1111" x2="298" y2="1128" stroke-width="2.4"/>
<line x1="306" y1="1114" x2="303" y2="1131" stroke-width="2.4"/>
<ellipse cx="347.3" cy="1139.4" rx="14" ry="18" transform="rotate(-20 347.3 1139.4)" stroke-width="5.6" fill="#fff"/>
<ellipse cx="343.3" cy="1141.4" rx="14" ry="18" transform="rotate(-20 343.3 1141.4)" stroke-width="5.6" fill="#fff"/>
<ellipse cx="343.3" cy="1141.4" rx="4" ry="5.2" transform="rotate(-20 343.3 1141.4)" stroke-width="3.75" fill="#000"/>
<path d="M747.3,716.7 C747.3,716.7 784.1,691.3 789.1,689.5 C794.2,687.6 798.8,694.3 803.7,696.3 C808.7,698.3 831.6,706.2 834.9,708.0 C838.2,709.7 841.7,716.7 841.7,716.7 C841.7,716.7 838.8,995.2 838.8,995.2 C838.8,995.2 827.1,1001.1 827.1,1001.1 C827.1,1001.1 789.3,1022.8 786.2,1024.4 C783.1,1026.1 779.9,1029.0 776.5,1028.3 C773.0,1027.7 758.0,1020.7 755.1,1018.6 C752.1,1016.4 750.2,1012.5 750.2,1008.9 C750.2,1005.2 753.1,728.4 753.1,728.4 C753.1,728.4 747.9,722.3 747.3,721.0 C746.6,719.7 747.3,716.7 747.3,716.7Z" stroke-width="6.3" fill="none" />
<path d="M755.1,716.7 L801.8,707.0" stroke-width="3.0" fill="none" />
<path d="M760.9,719.7 L770.6,728.4 L767.7,734.3 L786.2,747.9 L785.2,1024.4" stroke-width="6.3" fill="none" />
<path d="M779.4,747.9 L776.5,1022.5" stroke-width="2.64" fill="none" />
<path d="M809.6,710.9 L804.7,981.6 L825.2,993.3" stroke-width="3.0" fill="none" />
<path d="M787.2,999.1 L804.7,981.6" stroke-width="3.0" fill="none" />
<path d="M787.2,1016.6 L823.2,994.2" stroke-width="4.375" fill="none" />
<path d="M806.7,705.1 L832.0,718.7 L829.1,997.2" stroke-width="3.0" fill="none" />
<path d="M782.3,736.2 L788.2,730.4 L794.0,735.2" stroke-width="3.75" fill="none" />
<path d="M873.8,841.4 C874.1,836.7 877.7,832.2 881.6,829.7 C885.6,827.2 908.2,817.6 911.8,817.0 C915.5,816.5 920.5,820.1 920.6,823.8 C920.7,827.5 919.6,1043.9 919.6,1043.9 C919.6,1043.9 923.3,1047.5 923.5,1049.7 C923.7,1052.0 923.0,1056.1 920.6,1057.5 C918.2,1058.9 874.5,1079.5 870.0,1080.9 C865.4,1082.3 859.5,1078.8 856.3,1077.0 C853.1,1075.3 849.7,1071.5 848.5,1069.2 C847.4,1066.9 846.7,1063.3 848.5,1061.4 C850.4,1059.6 868.0,1049.7 868.0,1049.7 C868.0,1049.7 872.3,1040.0 872.3,1040.0 C872.3,1040.0 873.6,846.0 873.8,841.4Z" stroke-width="6.3" fill="none" />
<path d="M881.6,845.3 L882.6,1061.4 L871.9,1071.2" stroke-width="2.64" fill="none" />
<path d="M880.7,843.3 C881.3,842.5 884.5,837.3 887.5,835.5 C890.5,833.8 912.9,824.1 915.7,822.9" stroke-width="3.0" fill="none" />
<path d="M870.0,1061.4 L854.4,1071.2 L868.0,1077.0" stroke-width="3.75" fill="none" />
<path d="M1056.1,585.4 C1058.5,586.1 1070.1,591.4 1076.5,595.6 C1083.0,599.7 1092.7,606.6 1099.6,613.5 C1106.5,620.4 1116.4,632.1 1122.6,641.7 C1128.9,651.3 1134.3,662.5 1138.0,672.4 C1141.7,682.3 1144.2,693.0 1145.7,703.1 C1147.1,713.2 1147.9,728.0 1146.9,733.8 C1146.0,739.7 1142.8,745.8 1138.0,749.2 C1133.1,752.6 1120.9,757.7 1112.4,758.1 C1103.8,758.6 1094.7,755.5 1086.8,751.7 C1078.8,747.9 1060.2,735.8 1056.1,731.2 C1052.0,726.7 1053.4,719.3 1052.2,713.3 C1051.0,707.3 1051.9,698.8 1048.4,692.9 C1044.8,686.9 1031.9,680.0 1027.9,672.4 C1023.9,664.8 1024.5,655.4 1024.1,646.8 C1023.7,638.2 1023.7,623.5 1025.4,616.1 C1027.0,608.6 1032.4,599.7 1035.6,595.6 C1038.8,591.5 1046.1,587.8 1048.4,586.6 C1050.7,585.5 1053.6,584.6 1056.1,585.4Z" stroke-width="6.3" fill="none" />
<path d="M1166.6,627.6 C1166.6,627.6 1180.4,618.0 1184.0,617.4 C1187.6,616.7 1192.2,620.1 1193.8,622.5 C1195.4,624.8 1193.8,631.4 1193.8,631.4 C1193.8,631.4 1211.1,641.8 1219.9,646.8 C1228.7,651.8 1259.9,668.4 1266.0,672.4 C1272.0,676.4 1276.7,682.1 1281.3,687.7 C1285.9,693.4 1295.7,707.0 1299.2,713.3 C1302.8,719.7 1306.2,729.5 1306.9,733.8 C1307.6,738.1 1306.5,743.8 1304.3,746.6 C1302.2,749.4 1297.7,750.0 1294.1,750.4 C1290.5,750.9 1260.8,752.2 1260.8,752.2 C1260.8,752.2 1250.6,736.4 1250.6,736.4 C1250.6,736.4 1242.9,731.8 1242.9,731.8 C1242.9,731.8 1173.8,698.0 1173.8,698.0 C1173.8,698.0 1167.4,692.9 1167.4,692.9 C1167.4,692.9 1166.6,627.6 1166.6,627.6Z" stroke-width="6.3" fill="none" />
<path d="M1172.5,632.7 C1181.9,637.8 1255.7,676.8 1266.0,683.9 C1276.2,691.0 1284.0,705.4 1289.0,713.3 C1294.0,721.3 1299.4,736.4 1300.5,738.9" stroke-width="3.0" fill="none" />
<path d="M1241.6,699.3 C1242.4,699.5 1248.4,699.3 1249.3,701.8 C1250.3,704.3 1253.9,730.6 1254.4,733.8" stroke-width="5.6" fill="none" />
<ellipse cx="1186.606091630407" cy="628.3567954952649" rx="4" ry="3" transform="rotate(0 1186.606091630407 628.3567954952649)" stroke-width="3.0" fill="none"/>
<ellipse cx="1285.1471717430254" cy="733.8085487586384" rx="3.5" ry="5" transform="rotate(-30 1285.1471717430254 733.8085487586384)" stroke-width="2.4" fill="#000"/>
<ellipse cx="1409" cy="670" rx="17" ry="26" transform="rotate(-12 1409 670)" stroke-width="6.3" fill="#fff"/>
<ellipse cx="1404" cy="672" rx="13" ry="21" transform="rotate(-12 1404 672)" stroke-width="3.0" fill="none"/>
<line x1="1410.778370842671" y1="645.3798061746947" x2="1415.778370842671" y2="645.3798061746947" stroke-width="3.0"/>
<line x1="1416.0" y1="648.349364905389" x2="1421.0" y2="648.349364905389" stroke-width="3.0"/>
<line x1="1420.2567110899035" y1="653.9303097578365" x2="1425.2567110899035" y2="653.9303097578365" stroke-width="3.0"/>
<line x1="1423.0350819325745" y1="661.4494964168583" x2="1428.0350819325745" y2="661.4494964168583" stroke-width="3.0"/>
<line x1="1424.0" y1="670.0" x2="1429.0" y2="670.0" stroke-width="3.0"/>
<line x1="1423.0350819325745" y1="678.5505035831417" x2="1428.0350819325745" y2="678.5505035831417" stroke-width="3.0"/>
<line x1="1420.2567110899035" y1="686.0696902421635" x2="1425.2567110899035" y2="686.0696902421635" stroke-width="3.0"/>
<line x1="1416.0" y1="691.650635094611" x2="1421.0" y2="691.650635094611" stroke-width="3.0"/>
<line x1="1410.778370842671" y1="694.6201938253053" x2="1415.778370842671" y2="694.6201938253053" stroke-width="3.0"/>
<ellipse cx="1392" cy="676" rx="10" ry="15" transform="rotate(-12 1392 676)" stroke-width="5.6" fill="#fff"/>
<path d="M1372.0,684.0 C1373.7,680.3 1384.5,674.3 1388.0,675.0 C1391.5,675.7 1394.7,684.3 1393.0,688.0 C1391.3,691.7 1381.5,697.7 1378.0,697.0 C1374.5,696.3 1370.3,687.7 1372.0,684.0Z" stroke-width="4.375" fill="#fff" />
<line x1="1376" y1="682.0" x2="1381" y2="694.0" stroke-width="2.4"/>
<line x1="1381" y1="679.5" x2="1386" y2="691.5" stroke-width="2.4"/>
<line x1="1386" y1="677.0" x2="1391" y2="689.0" stroke-width="2.4"/>
<ellipse cx="1372" cy="691" rx="4.5" ry="7" transform="rotate(-20 1372 691)" stroke-width="4.375" fill="#fff"/>
<ellipse cx="1341.6" cy="702.4" rx="14" ry="18" transform="rotate(-15 1341.6 702.4)" stroke-width="5.6" fill="#fff"/>
<ellipse cx="1337.6" cy="704.4" rx="14" ry="18" transform="rotate(-15 1337.6 704.4)" stroke-width="5.6" fill="#fff"/>
<ellipse cx="1337.6" cy="704.4" rx="3.5" ry="4.55" transform="rotate(-15 1337.6 704.4)" stroke-width="3.75" fill="#000"/>
<path d="M1679.3,1705.0 C1679.3,1705.0 1684.5,1701.0 1687.3,1701.8 C1690.1,1702.5 1703.4,1711.4 1703.4,1711.4 C1703.4,1711.4 1732.3,1695.4 1732.3,1695.4 C1732.3,1695.4 1729.4,1682.6 1730.7,1679.3 C1732.0,1675.9 1736.9,1673.6 1740.4,1674.5 C1743.8,1675.3 1761.5,1686.3 1762.9,1687.3 C1764.2,1688.3 1764.5,1692.1 1764.5,1692.1 C1764.5,1692.1 1756.4,1968.6 1756.4,1968.6 C1756.4,1968.6 1700.2,1999.1 1700.2,1999.1 C1700.2,1999.1 1677.8,1986.0 1676.1,1984.7 C1674.4,1983.3 1674.5,1978.2 1674.5,1978.2 C1674.5,1978.2 1679.3,1705.0 1679.3,1705.0Z" stroke-width="6.3" fill="none" />
<path d="M1703.4,1713.0 L1700.2,1997.5" stroke-width="3.0" fill="none" />
<path d="M1733.9,1684.1 L1756.4,1696.0 L1754.8,1968.6" stroke-width="3.0" fill="none" />
<path d="M1725.9,1722.7 C1726.5,1722.2 1730.0,1718.1 1732.3,1717.9 C1734.6,1717.6 1739.7,1718.4 1739.7,1721.1 C1739.8,1723.8 1737.3,1945.2 1737.1,1949.3 C1737.0,1953.4 1734.7,1958.2 1732.3,1960.5 C1729.9,1962.9 1724.6,1964.6 1722.7,1963.8 C1720.8,1963.0 1721.0,1958.5 1721.1,1955.7 C1721.1,1953.0 1725.4,1746.0 1725.9,1722.7" stroke-width="5.6" fill="none" />
<path d="M1729.1,1727.5 L1727.5,1958.9" stroke-width="2.4" fill="none" />
<ellipse cx="1795.8" cy="1812.3" rx="21" ry="27" transform="rotate(-20 1795.8 1812.3)" stroke-width="5.6" fill="#fff"/>
<ellipse cx="1791.8" cy="1814.3" rx="21" ry="27" transform="rotate(-20 1791.8 1814.3)" stroke-width="5.6" fill="#fff"/>
<ellipse cx="1790" cy="1815" rx="4.5" ry="9" transform="rotate(25 1790 1815)" stroke-width="3.75" fill="none"/>
<ellipse cx="1828" cy="1841" rx="11" ry="17" transform="rotate(-15 1828 1841)" stroke-width="5.6" fill="#fff"/>
<path d="M1826.0,1824.0 L1853.0,1821.0 L1855.0,1856.0 L1830.0,1858.0Z" stroke-width="0.0" fill="#fff" />
<line x1="1827" y1="1824.5" x2="1852" y2="1821" stroke-width="5.6"/>
<line x1="1830" y1="1857.5" x2="1855" y2="1855" stroke-width="5.6"/>
<ellipse cx="1853" cy="1838" rx="12.5" ry="17.5" transform="rotate(-15 1853 1838)" stroke-width="5.6" fill="#fff"/>
<path d="M1853,1830 A5,8 -15 0,1 1851,1848" stroke-width="3.0" fill="none" />
<path d="M1885.0,1852.9 C1888.5,1851.2 1894.7,1847.2 1899.5,1848.0 C1904.3,1848.8 1911.3,1852.6 1913.9,1857.7 C1916.6,1862.8 1916.6,1872.7 1915.5,1878.6 C1914.5,1884.5 1911.3,1891.4 1907.5,1894.7 C1903.8,1897.9 1897.9,1898.7 1893.0,1897.9 C1888.2,1897.1 1882.1,1894.1 1878.6,1889.8 C1875.1,1885.5 1872.6,1876.5 1872.2,1872.2 C1871.7,1867.8 1873.2,1862.5 1875.4,1859.3 C1877.5,1856.1 1881.5,1854.5 1885.0,1852.9Z" stroke-width="5.6" fill="#fff" />
<ellipse cx="1898.5085181613629" cy="1875.3648344583735" rx="8" ry="10.5" transform="rotate(-20 1898.5085181613629 1875.3648344583735)" stroke-width="4.375" fill="none"/>
<ellipse cx="1897.865638058502" cy="1876.0077145612343" rx="4" ry="5.5" transform="rotate(-20 1897.865638058502 1876.0077145612343)" stroke-width="2.4" fill="none"/>
<path d="M1885.0,1852.9 L1888.2,1865.7 L1881.8,1885.0 L1893.0,1897.9" stroke-width="2.4" fill="none" />
<path d="M1913.9,1910.7 C1914.5,1909.7 1921.5,1892.4 1926.8,1885.0 C1932.1,1877.6 1941.4,1868.3 1946.1,1865.7 C1950.8,1863.2 1957.3,1863.5 1962.2,1865.7 C1967.0,1867.9 2006.9,1892.3 2010.4,1894.7 C2013.8,1897.0 2018.1,1900.1 2018.4,1904.3 C2018.7,1908.5 2018.0,1962.1 2016.8,1981.4 C2015.6,2000.8 2011.4,2033.6 2010.4,2039.3 C2009.4,2045.0 2008.1,2051.4 2003.9,2055.4 C1999.7,2059.3 1988.9,2067.2 1981.4,2066.6 C1973.9,2066.1 1963.5,2058.3 1958.9,2052.2 C1954.4,2046.0 1955.4,2037.2 1954.1,2029.7 C1952.9,2022.1 1942.4,1944.1 1939.7,1936.4 C1936.9,1928.8 1920.7,1929.7 1917.2,1926.8 C1913.6,1923.9 1912.6,1915.1 1912.3,1913.9 C1912.1,1912.8 1913.4,1911.8 1913.9,1910.7Z" stroke-width="6.3" fill="none" />
<ellipse cx="1994.2976534876245" cy="1930.009643201543" rx="17" ry="25" transform="rotate(12 1994.2976534876245 1930.009643201543)" stroke-width="5.6" fill="none"/>
<path d="M1944.5,1907.5 C1943.8,1909.4 1938.3,1921.2 1938.0,1926.8 C1937.8,1932.4 1942.4,1941.3 1942.9,1942.9" stroke-width="3.75" fill="none" />
<path d="M1970.2,1917.2 C1970.0,1920.4 1967.8,1938.6 1968.6,1949.3 C1969.4,1960.0 1980.2,2050.5 1981.4,2061.8" stroke-width="2.4" fill="none" />
<path d="M1978.2,1904.3 C1980.5,1903.5 1996.2,1896.7 2000.7,1896.3 C2005.3,1895.8 2012.3,1900.6 2013.6,1901.1" stroke-width="2.4" fill="none" />
<path d="M2038,1940.0 A12,17 -15 0,0 2038,1974.0" stroke-width="5.6" fill="none" />
<path d="M2054,1947.5 A12,17 -15 0,0 2054,1981.5" stroke-width="5.6" fill="none" />
<path d="M2070,1955.0 A12,17 -15 0,0 2070,1989.0" stroke-width="5.6" fill="none" />
<path d="M2086,1962.5 A12,17 -15 0,0 2086,1996.5" stroke-width="5.6" fill="none" />
<ellipse cx="2099" cy="1987.0" rx="12" ry="17" transform="rotate(-15 2099 1987.0)" stroke-width="5.6" fill="none"/>
<ellipse cx="2132.5" cy="2007.1" rx="18" ry="25" transform="rotate(-20 2132.5 2007.1)" stroke-width="6.3" fill="#fff"/>
<path d="M2120.0,1990.0 C2120.7,1981.6 2139.1,1981.1 2145.0,1987.0 C2150.9,1992.9 2170.8,2030.3 2170.0,2040.0 C2169.2,2049.7 2147.2,2052.2 2140.0,2045.0 C2132.8,2037.8 2119.3,1998.4 2120.0,1990.0Z" stroke-width="0.0" fill="#fff" />
<line x1="2126" y1="1988" x2="2160" y2="1991" stroke-width="6.3"/>
<line x1="2126" y1="2026" x2="2150" y2="2044" stroke-width="6.3"/>
<ellipse cx="2155" cy="2015" rx="21" ry="27" transform="rotate(-20 2155 2015)" stroke-width="6.3" fill="#fff"/>
<path d="M2146.0,1995.0 L2166.0,1992.0 L2175.0,2010.0 L2165.0,2035.0 L2146.0,2037.0 L2138.0,2018.0Z" stroke-width="3.0" fill="none" />
<ellipse cx="1379.5" cy="1610.5" rx="6.5" ry="10" transform="rotate(30 1379.5 1610.5)" stroke-width="4.375" fill="none"/>
<path d="M1387.6,1601.0 L1439.0,1653.3" stroke-width="3.75" fill="none" />
<path d="M1386.7,1606.7 L1437.1,1654.7" stroke-width="2.4" fill="none" />
<path d="M1403.8,1671.4 C1406.0,1670.0 1430.9,1654.8 1438.1,1654.3 C1445.3,1653.8 1452.0,1663.4 1455.2,1667.6 C1458.5,1671.8 1459.8,1680.2 1460.0,1682.9 C1460.2,1685.6 1459.4,1689.0 1457.1,1690.5 C1454.9,1692.0 1430.1,1707.1 1422.9,1707.6 C1415.6,1708.2 1408.8,1698.5 1405.7,1694.3 C1402.6,1690.1 1402.1,1681.7 1401.9,1679.0 C1401.7,1676.4 1401.6,1672.9 1403.8,1671.4Z" stroke-width="4.375" fill="none" />
<path d="M1405.7,1678.1 C1406.9,1678.8 1414.0,1682.1 1417.1,1684.8 C1420.2,1687.4 1424.0,1693.3 1424.8,1694.3" stroke-width="3.75" fill="none" />
<path d="M1414.3,1673.9 C1415.4,1674.6 1422.6,1677.9 1425.7,1680.6 C1428.8,1683.2 1432.6,1689.1 1433.3,1690.1" stroke-width="3.75" fill="none" />
<path d="M1422.9,1669.7 C1424.0,1670.4 1431.2,1673.7 1434.3,1676.4 C1437.4,1679.0 1441.1,1685.0 1441.9,1685.9" stroke-width="3.75" fill="none" />
<path d="M1431.4,1665.5 C1432.6,1666.2 1439.8,1669.6 1442.9,1672.2 C1446.0,1674.8 1449.7,1680.8 1450.5,1681.7" stroke-width="3.75" fill="none" />
<path d="M1422.9,1708.6 L1474.3,1761.9" stroke-width="4.375" fill="none" />
<path d="M1425.7,1706.7 L1476.6,1760.0" stroke-width="2.4" fill="none" />
<path d="M1474.3,1761.9 C1474.7,1762.6 1478.1,1766.0 1478.1,1768.6 C1478.1,1771.1 1477.1,1775.9 1474.3,1777.1 C1471.4,1778.4 1461.7,1778.6 1461.0,1776.2 C1460.2,1773.8 1468.7,1764.2 1469.5,1762.9" stroke-width="4.375" fill="none" />
<ellipse cx="1547" cy="1676" rx="19" ry="24.5" transform="rotate(20 1547 1676)" stroke-width="6.3" fill="#fff"/>
<ellipse cx="1551" cy="1677" rx="13" ry="17" transform="rotate(20 1551 1677)" stroke-width="3.75" fill="none"/>
<path d="M1566.7,1675.2 L1651.4,1721.9" stroke-width="5.6" fill="none" />
<path d="M1558.1,1694.3 L1643.8,1739.0" stroke-width="5.6" fill="none" />
<ellipse cx="1648.5714285714284" cy="1730.4761904761904" rx="6.5" ry="9.5" transform="rotate(25 1648.5714285714284 1730.4761904761904)" stroke-width="5.6" fill="#fff"/>
<path d="M1566.7142857142858,1675.8095238095239 Q1561.7142857142858,1683.8095238095239 1567.7142857142858,1692.8095238095239" stroke-width="3.75" fill="none" />
<path d="M1574.3333333333333,1679.904761904762 Q1569.3333333333333,1687.904761904762 1575.3333333333333,1696.904761904762" stroke-width="3.75" fill="none" />
<path d="M1581.952380952381,1684.0 Q1576.952380952381,1692.0 1582.952380952381,1701.0" stroke-width="3.75" fill="none" />
<path d="M1589.5714285714287,1688.095238095238 Q1584.5714285714287,1696.095238095238 1590.5714285714287,1705.095238095238" stroke-width="3.75" fill="none" />
<path d="M1597.1904761904761,1692.1904761904761 Q1592.1904761904761,1700.1904761904761 1598.1904761904761,1709.1904761904761" stroke-width="3.75" fill="none" />
<path d="M1604.8095238095239,1696.2857142857142 Q1599.8095238095239,1704.2857142857142 1605.8095238095239,1713.2857142857142" stroke-width="3.75" fill="none" />
<path d="M1612.4285714285713,1700.3809523809523 Q1607.4285714285713,1708.3809523809523 1613.4285714285713,1717.3809523809523" stroke-width="3.75" fill="none" />
<path d="M1620.047619047619,1704.4761904761904 Q1615.047619047619,1712.4761904761904 1621.047619047619,1721.4761904761904" stroke-width="3.75" fill="none" />
<path d="M1627.6666666666667,1708.5714285714287 Q1622.6666666666667,1716.5714285714287 1628.6666666666667,1725.5714285714287" stroke-width="3.75" fill="none" />
<path d="M1635.2857142857142,1712.6666666666667 Q1630.2857142857142,1720.6666666666667 1636.2857142857142,1729.6666666666667" stroke-width="3.75" fill="none" />
<path d="M1642.904761904762,1716.7619047619048 Q1637.904761904762,1724.7619047619048 1643.904761904762,1733.7619047619048" stroke-width="3.75" fill="none" />
<path d="M1541.0,1671.4 L1554.3,1667.6 L1560.0,1679.0 L1552.4,1690.5 L1541.0,1686.7 L1538.1,1679.0Z" stroke-width="3.0" fill="none" />
<path d="M1919.8,1467.1 C1919.8,1467.1 1866.3,1330.4 1864.3,1324.6 C1862.4,1318.9 1863.0,1310.9 1865.5,1306.5 C1867.9,1302.2 1875.9,1299.3 1879.0,1298.6 C1882.2,1298.0 1885.4,1300.3 1888.1,1302.0 C1890.8,1303.7 1957.1,1347.3 1957.1,1347.3" stroke-width="6.3" fill="none" />
<path d="M1922.0,1360.8 L1946.9,1348.4 L1957.8,1349.5 L1957.1,1501.1 L1980.8,1512.4 L1949.2,1529.3 L1924.3,1519.2 L1920.9,1516.9 L1922.0,1360.8Z" stroke-width="6.3" fill="none" />
<path d="M1946.9,1349.5 L1950.3,1502.2" stroke-width="3.0" fill="none" />
<path d="M1925.4,1518.0 L1953.7,1503.3" stroke-width="3.0" fill="none" />
<path d="M1881.5738520696675,1321.7747116037096 A4,5 0 0,1 1883.5738520696675,1330.7747116037096" stroke-width="3.75" fill="none" />
<path d="M1935.8602126215787,1391.8945939832618 A4,5 0 0,1 1937.8602126215787,1400.8945939832618" stroke-width="3.75" fill="none" />
<path d="M1935.8602126215787,1472.1931689662972 A4,5 0 0,1 1937.8602126215787,1481.1931689662972" stroke-width="3.75" fill="none" />
<path d="M1965.4,1274.5 L1940.4,1284.5 L1945.6,1297.5 L1970.6,1287.5Z" stroke-width="4.375" fill="#fff" />
<ellipse cx="1943" cy="1291" rx="3.8500000000000005" ry="7" transform="rotate(158.19859051364818 1943 1291)" stroke-width="3.3600000000000003" fill="#fff"/>
<line x1="1958.6502652655213" y1="1277.2006631638033" x2="1961.992781352708" y2="1290.942118188905" stroke-width="2.4"/>
<line x1="1954.4002652655213" y1="1278.9006631638033" x2="1957.742781352708" y2="1292.642118188905" stroke-width="2.4"/>
<line x1="1950.1502652655213" y1="1280.6006631638031" x2="1953.492781352708" y2="1294.3421181889048" stroke-width="2.4"/>
<line x1="1945.9002652655213" y1="1282.3006631638032" x2="1949.242781352708" y2="1296.0421181889049" stroke-width="2.4"/>
<ellipse cx="1970.7854300726558" cy="1279.8858279709377" rx="9.799999999999999" ry="14" transform="rotate(158.19859051364818 1970.7854300726558 1279.8858279709377)" stroke-width="4.375" fill="#fff"/>
<ellipse cx="1973.5708601453116" cy="1278.7716559418755" rx="9.799999999999999" ry="14" transform="rotate(158.19859051364818 1973.5708601453116 1278.7716559418755)" stroke-width="4.375" fill="#fff"/>
<line x1="1976.1705948797903" y1="1285.2709927780722" x2="1970.9711254108329" y2="1272.2723191056787" stroke-width="3.0"/>
<path d="M2007.4,1429.9 L1987.4,1418.9 L1980.6,1431.1 L2000.6,1442.1Z" stroke-width="4.375" fill="#fff" />
<ellipse cx="1984" cy="1425" rx="3.8500000000000005" ry="7" transform="rotate(-151.18920625702694 1984 1425)" stroke-width="3.3600000000000003" fill="#fff"/>
<line x1="2001.973431248405" y1="1426.8964886392635" x2="1993.4741369342416" y2="1438.1996738611922" stroke-width="2.4"/>
<line x1="1998.573431248405" y1="1425.0264886392636" x2="1990.0741369342418" y2="1436.3296738611923" stroke-width="2.4"/>
<line x1="1995.173431248405" y1="1423.1564886392634" x2="1986.6741369342417" y2="1434.4596738611922" stroke-width="2.4"/>
<line x1="1991.7734312484051" y1="1421.2864886392636" x2="1983.2741369342418" y2="1432.5896738611923" stroke-width="2.4"/>
<ellipse cx="2006.6286477260298" cy="1437.4457562493164" rx="9.799999999999999" ry="14" transform="rotate(-151.18920625702694 2006.6286477260298 1437.4457562493164)" stroke-width="4.375" fill="#fff"/>
<ellipse cx="2009.25729545206" cy="1438.891512498633" rx="9.799999999999999" ry="14" transform="rotate(-151.18920625702694 2009.25729545206 1438.891512498633)" stroke-width="4.375" fill="#fff"/>
<line x1="2005.8838642036549" y1="1445.0250238593694" x2="2012.630726700465" y2="1432.7580011378964" stroke-width="3.0"/>
<path d="M1719.0,1447.2 L1694.0,1460.2 L1700.0,1471.8 L1725.0,1458.8Z" stroke-width="4.375" fill="#fff" />
<ellipse cx="1697" cy="1466" rx="3.575" ry="6.5" transform="rotate(152.52556837372288 1697 1466)" stroke-width="3.3600000000000003" fill="#fff"/>
<line x1="1712.251207211827" y1="1450.7430907919752" x2="1716.4743591857039" y2="1463.1996146813087" stroke-width="2.4"/>
<line x1="1708.001207211827" y1="1452.9530907919752" x2="1712.2243591857039" y2="1465.4096146813088" stroke-width="2.4"/>
<line x1="1703.751207211827" y1="1455.1630907919753" x2="1707.9743591857039" y2="1467.6196146813088" stroke-width="2.4"/>
<line x1="1699.501207211827" y1="1457.3730907919753" x2="1703.7243591857039" y2="1469.8296146813088" stroke-width="2.4"/>
<ellipse cx="1724.6616504037038" cy="1451.615941790074" rx="9.1" ry="13" transform="rotate(152.52556837372288 1724.6616504037038 1451.615941790074)" stroke-width="4.375" fill="#fff"/>
<ellipse cx="1727.3233008074076" cy="1450.231883580148" rx="9.1" ry="13" transform="rotate(152.52556837372288 1727.3233008074076 1450.231883580148)" stroke-width="4.375" fill="#fff"/>
<line x1="1730.3220935955806" y1="1455.9987927881728" x2="1724.3245080192346" y2="1444.4649743721232" stroke-width="3.0"/>
<path d="M965.8,1343.2 L976.0,1348.8 L978.4,1344.4 L968.2,1338.8Z" stroke-width="3.0" fill="#fff" />
<path d="M1008.3,1368.3 L1025.8,1376.2 L1028.2,1371.8 L1012.1,1361.3Z" stroke-width="3.0" fill="#fff" />
<path d="M974.1,1352.3 L1007.1,1370.5 L1013.3,1359.1 L980.3,1340.9Z" stroke-width="4.375" fill="#fff" />
<ellipse cx="977.2" cy="1346.61" rx="3.25" ry="6.5" transform="rotate(28.810793742973058 977.2 1346.61)" stroke-width="3.3600000000000003" fill="#fff"/>
<path d="M653.7,1518.1 L663.6,1524.1 L666.2,1519.8 L656.3,1513.9Z" stroke-width="3.0" fill="#fff" />
<path d="M694.7,1544.6 L711.7,1553.1 L714.3,1548.9 L698.8,1537.8Z" stroke-width="3.0" fill="#fff" />
<path d="M661.5,1527.5 L693.4,1546.8 L700.1,1535.6 L668.2,1516.4Z" stroke-width="4.375" fill="#fff" />
<ellipse cx="664.86" cy="1521.95" rx="3.25" ry="6.5" transform="rotate(31.108808828545143 664.86 1521.95)" stroke-width="3.3600000000000003" fill="#fff"/>
<path d="M1092.1,1371.7 L1060.1,1355.7 L1053.9,1368.3 L1085.9,1384.3Z" stroke-width="4.375" fill="#fff" />
<ellipse cx="1057" cy="1362" rx="3.8500000000000005" ry="7" transform="rotate(-153.434948822922 1057 1362)" stroke-width="3.3600000000000003" fill="#fff"/>
<line x1="1083.4904951684996" y1="1367.4190096630007" x2="1075.4406504495005" y2="1379.0465631459995" stroke-width="2.4"/>
<line x1="1078.0504951684998" y1="1364.6990096630007" x2="1070.0006504495007" y2="1376.3265631459994" stroke-width="2.4"/>
<line x1="1072.6104951684997" y1="1361.9790096630006" x2="1064.5606504495006" y2="1373.6065631459994" stroke-width="2.4"/>
<line x1="1067.1704951684997" y1="1359.2590096630006" x2="1059.1206504495005" y2="1370.8865631459994" stroke-width="2.4"/>
<ellipse cx="1091.6832815729997" cy="1379.3416407865" rx="11.2" ry="16" transform="rotate(-153.434948822922 1091.6832815729997 1379.3416407865)" stroke-width="4.375" fill="#fff"/>
<ellipse cx="1094.3665631459994" cy="1380.6832815729997" rx="11.2" ry="16" transform="rotate(-153.434948822922 1094.3665631459994 1380.6832815729997)" stroke-width="4.375" fill="#fff"/>
<line x1="1090.7888543819997" y1="1387.838699100999" x2="1097.944271909999" y2="1373.5278640450003" stroke-width="3.0"/>
<path d="M1059.1,1410.6 L1030.1,1423.6 L1035.9,1436.4 L1064.9,1423.4Z" stroke-width="4.375" fill="#fff" />
<ellipse cx="1033" cy="1430" rx="3.8500000000000005" ry="7" transform="rotate(155.85445803957836 1033 1430)" stroke-width="3.3600000000000003" fill="#fff"/>
<line x1="1051.3066086713497" y1="1414.1224347283953" x2="1055.2083726796204" y2="1427.7156770797906" stroke-width="2.4"/>
<line x1="1046.3766086713497" y1="1416.3324347283954" x2="1050.2783726796204" y2="1429.9256770797906" stroke-width="2.4"/>
<line x1="1041.4466086713496" y1="1418.5424347283954" x2="1045.3483726796203" y2="1432.1356770797906" stroke-width="2.4"/>
<line x1="1036.5166086713498" y1="1420.7524347283954" x2="1040.4183726796205" y2="1434.3456770797907" stroke-width="2.4"/>
<ellipse cx="1064.737527973545" cy="1415.7728322877213" rx="9.799999999999999" ry="14" transform="rotate(155.85445803957836 1064.737527973545 1415.7728322877213)" stroke-width="4.375" fill="#fff"/>
<ellipse cx="1067.4750559470897" cy="1414.5456645754425" rx="9.799999999999999" ry="14" transform="rotate(155.85445803957836 1067.4750559470897 1414.5456645754425)" stroke-width="4.375" fill="#fff"/>
<line x1="1070.33844727574" y1="1420.9332298470472" x2="1064.6116646184394" y2="1408.1580993038378" stroke-width="3.0"/>
<path d="M1218.9,1649.7 L1190.9,1663.7 L1197.1,1676.3 L1225.1,1662.3Z" stroke-width="4.375" fill="#fff" />
<ellipse cx="1194" cy="1670" rx="3.8500000000000005" ry="7" transform="rotate(153.434948822922 1194 1670)" stroke-width="3.3600000000000003" fill="#fff"/>
<line x1="1211.3095048315004" y1="1653.5190096630006" x2="1215.7816407865" y2="1666.9354175279993" stroke-width="2.4"/>
<line x1="1206.5495048315004" y1="1655.8990096630007" x2="1211.0216407865" y2="1669.3154175279994" stroke-width="2.4"/>
<line x1="1201.7895048315004" y1="1658.2790096630006" x2="1206.2616407865" y2="1671.6954175279993" stroke-width="2.4"/>
<line x1="1197.0295048315004" y1="1660.6590096630007" x2="1201.5016407865" y2="1674.0754175279994" stroke-width="2.4"/>
<ellipse cx="1224.6832815729997" cy="1654.6583592135" rx="9.799999999999999" ry="14" transform="rotate(153.434948822922 1224.6832815729997 1654.6583592135)" stroke-width="4.375" fill="#fff"/>
<ellipse cx="1227.3665631459994" cy="1653.3167184270003" rx="9.799999999999999" ry="14" transform="rotate(153.434948822922 1227.3665631459994 1653.3167184270003)" stroke-width="4.375" fill="#fff"/>
<line x1="1230.497058314499" y1="1659.5777087639997" x2="1224.2360679774997" y2="1647.055728090001" stroke-width="3.0"/>
<ellipse cx="696" cy="1623" rx="11" ry="16" transform="rotate(-20 696 1623)" stroke-width="5.6" fill="#fff"/>
<ellipse cx="688" cy="1627" rx="13" ry="18" transform="rotate(-20 688 1627)" stroke-width="5.6" fill="#fff"/>
<ellipse cx="679" cy="1631" rx="14" ry="19" transform="rotate(-20 679 1631)" stroke-width="5.6" fill="#fff"/>
<ellipse cx="678" cy="1632" rx="5" ry="7" transform="rotate(-20 678 1632)" stroke-width="3.0" fill="none"/>
<path d="M678.9,683.0 C678.9,686.9 672.5,690.3 670.7,694.7 C668.9,699.1 670.6,707.1 668.0,709.6 C665.4,712.0 659.2,708.2 655.1,709.3 C651.0,710.4 646.8,717.0 643.6,716.1 C640.3,715.3 638.9,707.2 635.7,704.1 C632.4,701.1 625.4,701.3 624.0,697.8 C622.5,694.2 627.0,687.9 627.0,683.0 C627.0,678.1 622.5,671.8 624.0,668.2 C625.4,664.7 632.4,664.9 635.7,661.9 C638.9,658.8 640.3,650.7 643.6,649.9 C646.8,649.0 651.0,655.6 655.1,656.7 C659.2,657.8 665.4,654.0 668.0,656.4 C670.6,658.9 668.9,666.9 670.7,671.3 C672.5,675.7 678.9,679.1 678.9,683.0Z" stroke-width="5.6" fill="#fff" />
<ellipse cx="663" cy="690" rx="18" ry="24" transform="rotate(-15 663 690)" stroke-width="5.6" fill="#fff"/>
<ellipse cx="668" cy="693" rx="12" ry="17" transform="rotate(-15 668 693)" stroke-width="3.75" fill="none"/>
<ellipse cx="672" cy="695" rx="3" ry="4" transform="rotate(0 672 695)" stroke-width="2.4" fill="#000"/>
<ellipse cx="723" cy="722" rx="14" ry="19" transform="rotate(-15 723 722)" stroke-width="5.6" fill="#fff"/>
<ellipse cx="719" cy="724" rx="14" ry="19" transform="rotate(-15 719 724)" stroke-width="5.6" fill="#fff"/>
<ellipse cx="719" cy="724" rx="3" ry="3.9000000000000004" transform="rotate(-15 719 724)" stroke-width="3.75" fill="#000"/>
<ellipse cx="1786" cy="767" rx="17" ry="26" transform="rotate(-12 1786 767)" stroke-width="6.3" fill="#fff"/>
<ellipse cx="1781" cy="769" rx="13" ry="21" transform="rotate(-12 1781 769)" stroke-width="3.0" fill="none"/>
<line x1="1787.778370842671" y1="742.3798061746947" x2="1792.778370842671" y2="742.3798061746947" stroke-width="3.0"/>
<line x1="1793.0" y1="745.349364905389" x2="1798.0" y2="745.349364905389" stroke-width="3.0"/>
<line x1="1797.2567110899035" y1="750.9303097578365" x2="1802.2567110899035" y2="750.9303097578365" stroke-width="3.0"/>
<line x1="1800.0350819325745" y1="758.4494964168583" x2="1805.0350819325745" y2="758.4494964168583" stroke-width="3.0"/>
<line x1="1801.0" y1="767.0" x2="1806.0" y2="767.0" stroke-width="3.0"/>
<line x1="1800.0350819325745" y1="775.5505035831417" x2="1805.0350819325745" y2="775.5505035831417" stroke-width="3.0"/>
<line x1="1797.2567110899035" y1="783.0696902421635" x2="1802.2567110899035" y2="783.0696902421635" stroke-width="3.0"/>
<line x1="1793.0" y1="788.650635094611" x2="1798.0" y2="788.650635094611" stroke-width="3.0"/>
<line x1="1787.778370842671" y1="791.6201938253053" x2="1792.778370842671" y2="791.6201938253053" stroke-width="3.0"/>
<ellipse cx="1769" cy="774" rx="10" ry="15" transform="rotate(-12 1769 774)" stroke-width="5.6" fill="#fff"/>
<path d="M1747.0,784.0 C1748.8,780.2 1760.2,773.5 1764.0,774.0 C1767.8,774.5 1771.8,783.2 1770.0,787.0 C1768.2,790.8 1756.8,797.5 1753.0,797.0 C1749.2,796.5 1745.2,787.8 1747.0,784.0Z" stroke-width="4.375" fill="#fff" />
<line x1="1751" y1="782.0" x2="1756" y2="794.0" stroke-width="2.4"/>
<line x1="1756" y1="779.5" x2="1761" y2="791.5" stroke-width="2.4"/>
<line x1="1761" y1="777.0" x2="1766" y2="789.0" stroke-width="2.4"/>
<ellipse cx="1747" cy="791" rx="4.5" ry="7" transform="rotate(-20 1747 791)" stroke-width="4.375" fill="#fff"/>
<ellipse cx="1707" cy="812" rx="14" ry="18" transform="rotate(-15 1707 812)" stroke-width="5.6" fill="#fff"/>
<ellipse cx="1703" cy="814" rx="14" ry="18" transform="rotate(-15 1703 814)" stroke-width="5.6" fill="#fff"/>
<ellipse cx="1703" cy="814" rx="3.5" ry="4.55" transform="rotate(-15 1703 814)" stroke-width="3.75" fill="#000"/>
<path d="M1561.0,348.0 C1560.6,348.8 1557.9,353.1 1557.0,356.0 C1556.1,358.9 1555.2,364.0 1555.0,368.0 C1554.8,372.0 1554.0,396.7 1554.0,411.0 C1554.0,425.3 1554.8,450.0 1555.0,454.0 C1555.2,458.0 1557.7,462.7 1557.0,466.0 C1556.3,469.3 1551.6,473.2 1551.0,474.0" stroke-width="4.375" fill="none" />
<path d="M1564.0,360.0 C1564.1,365.1 1565.0,394.7 1565.0,411.0 C1565.0,427.3 1564.1,455.1 1564.0,460.0" stroke-width="4.375" fill="none" />
<line x1="1556" y1="366.0" x2="1563" y2="372.0" stroke-width="3.0"/>
<line x1="1556" y1="377.25" x2="1563" y2="383.25" stroke-width="3.0"/>
<line x1="1556" y1="388.5" x2="1563" y2="394.5" stroke-width="3.0"/>
<line x1="1556" y1="399.75" x2="1563" y2="405.75" stroke-width="3.0"/>
<line x1="1556" y1="411.0" x2="1563" y2="417.0" stroke-width="3.0"/>
<line x1="1556" y1="422.25" x2="1563" y2="428.25" stroke-width="3.0"/>
<line x1="1556" y1="433.5" x2="1563" y2="439.5" stroke-width="3.0"/>
<line x1="1556" y1="444.75" x2="1563" y2="450.75" stroke-width="3.0"/>
<path d="M2025.0,654.0 C2024.6,654.8 2021.9,659.1 2021.0,662.0 C2020.1,664.9 2019.2,670.0 2019.0,674.0 C2018.8,678.0 2018.0,702.0 2018.0,716.0 C2018.0,730.0 2018.8,754.0 2019.0,758.0 C2019.2,762.0 2021.7,766.7 2021.0,770.0 C2020.3,773.3 2015.6,777.2 2015.0,778.0" stroke-width="4.375" fill="none" />
<path d="M2028.0,666.0 C2028.1,671.0 2029.0,700.0 2029.0,716.0 C2029.0,732.0 2028.1,759.2 2028.0,764.0" stroke-width="4.375" fill="none" />
<line x1="2020" y1="672.0" x2="2027" y2="678.0" stroke-width="3.0"/>
<line x1="2020" y1="683.0" x2="2027" y2="689.0" stroke-width="3.0"/>
<line x1="2020" y1="694.0" x2="2027" y2="700.0" stroke-width="3.0"/>
<line x1="2020" y1="705.0" x2="2027" y2="711.0" stroke-width="3.0"/>
<line x1="2020" y1="716.0" x2="2027" y2="722.0" stroke-width="3.0"/>
<line x1="2020" y1="727.0" x2="2027" y2="733.0" stroke-width="3.0"/>
<line x1="2020" y1="738.0" x2="2027" y2="744.0" stroke-width="3.0"/>
<line x1="2020" y1="749.0" x2="2027" y2="755.0" stroke-width="3.0"/>
<path d="M238.3,1895.6 L275.3,1873.6 L268.7,1862.4 L231.7,1884.4Z" stroke-width="4.375" fill="#fff" />
<ellipse cx="272" cy="1868" rx="3.575" ry="6.5" transform="rotate(-30.7354877019201 272 1868)" stroke-width="3.3600000000000003" fill="#fff"/>
<line x1="248.3119900537015" y1="1889.6469832721343" x2="243.38708172233984" y2="1877.4508659421112" stroke-width="2.4"/>
<line x1="254.60199005370148" y1="1885.9069832721343" x2="249.67708172233984" y2="1873.7108659421112" stroke-width="2.4"/>
<line x1="260.8919900537015" y1="1882.1669832721343" x2="255.96708172233983" y2="1869.9708659421112" stroke-width="2.4"/>
<line x1="267.1819900537015" y1="1878.4269832721343" x2="262.2570817223399" y2="1866.2308659421112" stroke-width="2.4"/>
<ellipse cx="232.421392335938" cy="1891.5332261786314" rx="9.1" ry="13" transform="rotate(-30.7354877019201 232.421392335938 1891.5332261786314)" stroke-width="4.375" fill="#fff"/>
<ellipse cx="229.84278467187602" cy="1893.066452357263" rx="9.1" ry="13" transform="rotate(-30.7354877019201 229.84278467187602 1893.066452357263)" stroke-width="4.375" fill="#fff"/>
<line x1="226.52079461817453" y1="1887.4794690851286" x2="233.1647747255775" y2="1898.6534356293973" stroke-width="3.0"/>
<ellipse cx="320" cy="1832" rx="15" ry="19" transform="rotate(-20 320 1832)" stroke-width="5.6" fill="#fff"/>
<ellipse cx="316" cy="1834" rx="15" ry="19" transform="rotate(-20 316 1834)" stroke-width="5.6" fill="#fff"/>
<ellipse cx="316" cy="1834" rx="3.5" ry="4.55" transform="rotate(-20 316 1834)" stroke-width="3.75" fill="#000"/>
<path d="M482.1,2203.6 L477.9,2350.0 L475.7,2371.4 L478.6,2383.9 L485.7,2382.1 L498.2,2376.8 L497.1,2350.0 L501.8,2210.7" stroke-width="5.6" fill="#fff" />
<path d="M485.7,2350.0 L483.9,2378.6" stroke-width="3.0" fill="none" />
<path d="M477.9,2350.0 L485.7,2346.4 L497.1,2350.0" stroke-width="3.0" fill="none" />
<path d="M503.6,2155.4 C503.6,2155.4 610.7,2214.3 610.7,2214.3 C610.7,2214.3 638.2,2227.8 642.9,2232.1 C647.5,2236.4 649.8,2243.7 649.3,2250.0 C648.7,2256.3 643.6,2268.2 639.3,2273.2 C634.9,2278.2 628.0,2282.9 621.4,2282.1 C614.8,2281.4 591.9,2269.3 589.3,2267.9 C586.7,2266.4 583.9,2260.7 583.9,2260.7 C583.9,2260.7 501.8,2213.6 501.8,2213.6 C501.8,2213.6 461.2,2190.7 457.1,2187.5 C453.1,2184.3 451.1,2178.3 451.1,2173.2 C451.1,2168.2 453.7,2161.7 457.1,2157.1 C460.6,2152.6 470.0,2145.1 473.2,2143.6 C476.5,2142.1 483.9,2144.6 483.9,2144.6 C483.9,2144.6 503.6,2155.4 503.6,2155.4Z" stroke-width="6.3" fill="#fff" />
<path d="M603.6,2219.6 L635.7,2235.7 L646.4,2250.0 L635.7,2275.0 L617.9,2276.8 L614.3,2257.1 L603.6,2219.6" stroke-width="3.0" fill="none" />
<path d="M603.6,2219.6 C602.0,2221.4 590.8,2230.7 587.5,2237.5 C584.2,2244.3 584.3,2258.4 583.9,2260.7" stroke-width="3.0" fill="none" />
<path d="M614.3,2257.1 L646.4,2250.0" stroke-width="2.4" fill="none" />
<path d="M482.1,2135.7 C485.1,2131.0 497.9,2127.4 501.8,2130.4 C505.7,2133.3 506.4,2149.0 505.4,2153.6 C504.3,2158.1 498.2,2161.6 494.6,2162.5 C491.1,2163.4 485.5,2162.3 483.9,2158.9 C482.3,2155.5 479.2,2140.5 482.1,2135.7Z" stroke-width="5.6" fill="#fff" />
<path d="M487.5,2139.3 L489.3,2158.9" stroke-width="2.4" fill="none" />
<path d="M1021.0,2312.5 C1021.9,2308.0 1025.1,2281.8 1030.2,2267.6 C1035.4,2253.4 1042.4,2239.3 1051.9,2227.4 C1061.4,2215.5 1078.1,2199.5 1092.1,2190.2 C1106.2,2180.9 1126.6,2173.9 1138.6,2170.1 C1150.5,2166.3 1163.2,2164.6 1175.7,2163.9 C1188.2,2163.2 1206.8,2163.2 1222.1,2165.5 C1237.5,2167.8 1253.5,2172.3 1268.6,2177.9 C1283.6,2183.4 1300.1,2191.1 1315.0,2199.5 C1329.9,2207.9 1347.3,2218.4 1361.4,2230.5 C1375.5,2242.6 1389.3,2258.4 1401.7,2273.8 C1414.0,2289.2 1430.7,2314.7 1435.7,2323.3 C1440.7,2332.0 1445.5,2348.4 1446.5,2351.2" stroke-width="6.3" fill="none" />
<path d="M1093.7,2354.3 C1093.5,2348.7 1090.7,2310.6 1092.1,2298.6 C1093.6,2286.6 1098.3,2274.3 1104.5,2264.5 C1110.7,2254.7 1119.5,2246.0 1129.3,2239.8 C1139.1,2233.6 1151.5,2229.9 1163.3,2227.4 C1175.1,2224.8 1188.1,2223.3 1200.5,2224.3 C1212.9,2225.3 1229.4,2230.1 1237.6,2233.6 C1245.8,2237.0 1254.4,2243.5 1259.3,2249.0 C1264.1,2254.6 1266.3,2262.1 1268.6,2269.2 C1270.8,2276.2 1270.7,2285.7 1273.2,2292.4 C1275.7,2299.1 1279.9,2307.8 1284.0,2311.0 C1288.2,2314.1 1295.1,2314.6 1299.5,2312.5 C1303.9,2310.4 1308.0,2301.3 1310.4,2298.6 C1312.7,2295.8 1314.4,2290.8 1318.1,2290.8 C1321.7,2290.8 1329.0,2295.1 1333.6,2298.6 C1338.2,2302.0 1353.6,2313.7 1361.4,2323.3 C1369.3,2333.0 1377.8,2349.6 1381.5,2357.4 C1385.2,2365.2 1388.5,2379.7 1389.3,2382.1" stroke-width="6.3" fill="none" />
<path d="M1041.1,2317.1 C1041.5,2312.5 1040.8,2285.2 1045.7,2270.7 C1050.6,2256.3 1059.8,2242.1 1070.5,2230.5 C1081.1,2218.9 1097.3,2204.4 1113.8,2196.4 C1130.3,2188.4 1157.2,2181.6 1175.7,2179.4 C1194.2,2177.2 1213.3,2178.4 1231.4,2182.5 C1249.6,2186.6 1278.1,2196.1 1299.5,2207.3 C1320.9,2218.5 1343.4,2233.9 1361.4,2250.6 C1379.4,2267.3 1398.2,2294.3 1407.9,2307.9 C1417.5,2321.4 1430.1,2346.9 1432.6,2351.2" stroke-width="3.75" fill="none" />
<path d="M1082.9,2338.8 C1082.5,2334.5 1077.7,2309.4 1079.8,2295.5 C1081.8,2281.5 1086.7,2266.8 1095.2,2255.2 C1103.8,2243.7 1118.1,2231.7 1132.4,2224.3 C1146.7,2216.9 1177.7,2211.6 1181.9,2210.4 C1186.1,2209.1 1193.0,2206.2 1194.3,2205.7" stroke-width="3.75" fill="none" />
<path d="M1212.9,2205.7 C1218.4,2208.2 1251.9,2220.9 1268.6,2230.5 C1285.2,2240.1 1299.8,2253.9 1315.0,2264.5 C1330.2,2275.2 1352.5,2287.8 1361.4,2295.5 C1370.3,2303.2 1377.7,2312.9 1383.1,2323.3 C1388.5,2333.8 1397.0,2362.3 1398.6,2366.7" stroke-width="3.75" fill="none" />
<path d="M1045.7,2267.6 L1079.8,2348.1" stroke-width="3.36" fill="none" />
<path d="M1067.4,2261.4 L1048.8,2329.5" stroke-width="3.36" fill="none" />
<path d="M1082.9,2252.1 L1138.6,2202.6" stroke-width="3.36" fill="none" />
<path d="M1051.9,2258.3 L1126.2,2242.9" stroke-width="3.36" fill="none" />
<path d="M1138.6,2227.4 L1175.7,2177.9" stroke-width="3.36" fill="none" />
<path d="M1151.0,2218.1 L1188.1,2215.0" stroke-width="3.36" fill="none" />
<path d="M1206.7,2177.9 L1237.6,2230.5" stroke-width="3.36" fill="none" />
<path d="M1212.9,2211.9 L1299.5,2252.1" stroke-width="3.36" fill="none" />
<path d="M1234.5,2205.7 L1345.9,2280.0" stroke-width="3.36" fill="none" />
<path d="M1330.5,2242.9 L1376.9,2301.7" stroke-width="3.36" fill="none" />
<path d="M1370.7,2286.2 L1392.4,2372.9" stroke-width="3.36" fill="none" />
<path d="M1376.9,2323.3 L1410.9,2363.6" stroke-width="3.36" fill="none" />
<path d="M1280.9,2252.1 L1361.4,2273.8" stroke-width="3.36" fill="none" />
<ellipse cx="1192.7361644174816" cy="2199.5233378729727" rx="3" ry="4" transform="rotate(0 1192.7361644174816 2199.5233378729727)" stroke-width="3.0" fill="none"/>
<ellipse cx="1287.140027237836" cy="2292.3795963847965" rx="3.5" ry="4.5" transform="rotate(0 1287.140027237836 2292.3795963847965)" stroke-width="3.0" fill="none"/>
<path d="M1007.0,2318.7 C1007.0,2318.7 1021.0,2309.4 1021.0,2309.4 C1021.0,2309.4 1083.9,2350.0 1089.0,2354.3 C1094.2,2358.6 1094.4,2368.0 1096.8,2372.9 C1099.2,2377.7 1104.8,2381.4 1105.1,2386.8 C1105.5,2392.2 1103.1,2437.2 1101.4,2442.5 C1099.8,2447.8 1091.1,2450.8 1086.0,2448.7 C1080.8,2446.6 1017.9,2409.0 1014.8,2406.9 C1011.7,2404.9 1008.9,2401.3 1008.6,2397.6 C1008.2,2393.9 1007.0,2318.7 1007.0,2318.7Z" stroke-width="6.3" fill="#fff" />
<line x1="1025.594899096199" y1="2362.021790268664" x2="1082.8562585118236" y2="2397.6166893648633" stroke-width="12.6"/>
<line x1="1025.6" y1="2362.0" x2="1082.9" y2="2397.6" stroke="#fff" stroke-width="2.5"/>
<line x1="1025.594899096199" y1="2389.8786678222114" x2="1082.8562585118236" y2="2427.0211712269406" stroke-width="12.6"/>
<line x1="1025.6" y1="2389.9" x2="1082.9" y2="2427.0" stroke="#fff" stroke-width="2.5"/>
<path d="M1387.7,2382.1 C1387.7,2382.1 1441.9,2349.6 1441.9,2349.6 C1441.9,2349.6 1452.1,2350.5 1454.3,2354.3 C1456.5,2358.1 1496.3,2443.6 1497.6,2447.1 C1498.9,2450.6 1494.6,2454.4 1491.4,2456.4 C1488.3,2458.4 1433.0,2489.1 1429.5,2490.5 C1426.1,2491.8 1421.8,2487.6 1420.2,2484.3 C1418.6,2480.9 1389.9,2410.7 1387.7,2403.8 C1385.5,2396.9 1387.7,2382.1 1387.7,2382.1Z" stroke-width="6.3" fill="#fff" />
<path d="M1446.5,2354.3 L1491.4,2451.8" stroke-width="2.4" fill="none" />
<line x1="1418.6863934629193" y1="2433.211588461062" x2="1457.3765011761793" y2="2411.5451281416367" stroke-width="14.0"/>
<line x1="1418.7" y1="2433.2" x2="1457.4" y2="2411.5" stroke="#fff" stroke-width="4"/>
<line x1="1434.1624365482235" y1="2464.1636746316703" x2="1472.8525442614832" y2="2442.4972143122445" stroke-width="14.0"/>
<line x1="1434.2" y1="2464.2" x2="1472.9" y2="2442.5" stroke="#fff" stroke-width="4"/>
<path d="M1315.4,2508.3 L1363.8,2497.1 L1378.3,2558.3 L1329.2,2573.8Z" stroke-width="6.3" fill="none" />
<path d="M1360.4,2499.2 L1372.9,2559.2" stroke-width="2.4" fill="none" />
<path d="M1134.2,2658.3 L1183.3,2647.1 L1197.9,2711.7 L1146.7,2725.0Z" stroke-width="6.3" fill="none" />
<path d="M1180.0,2649.2 L1192.5,2713.3" stroke-width="2.4" fill="none" />
<path d="M1339.6666666666667,2514.75 A3.5,4.5 0 0,1 1341.6666666666667,2522.75" stroke-width="4.375" fill="none" />
<path d="M1343.8333333333335,2543.9166666666665 A3.5,4.5 0 0,1 1345.8333333333335,2551.9166666666665" stroke-width="4.375" fill="none" />
<path d="M1158.4166666666667,2664.75 A3.5,4.5 0 0,1 1160.4166666666667,2672.75" stroke-width="4.375" fill="none" />
<path d="M1164.6666666666667,2696.0 A3.5,4.5 0 0,1 1166.6666666666667,2704.0" stroke-width="4.375" fill="none" />
<path d="M1224.2,2575.8 C1224.2,2575.8 1255.0,2570.0 1255.0,2570.0 C1255.0,2570.0 1262.9,2631.4 1263.3,2633.3 C1263.8,2635.3 1268.5,2632.0 1268.3,2630.0 C1268.2,2628.0 1259.2,2568.3 1259.2,2568.3 C1259.2,2568.3 1277.1,2563.8 1277.1,2563.8 C1277.1,2563.8 1284.9,2593.3 1287.5,2608.3 C1290.1,2623.4 1293.4,2641.7 1293.8,2658.3 C1294.1,2675.0 1292.3,2692.7 1289.6,2708.3 C1286.9,2723.9 1282.4,2743.0 1277.1,2754.2 C1271.8,2765.3 1262.0,2774.5 1254.2,2783.3 C1246.4,2792.2 1234.8,2803.6 1229.2,2808.3 C1223.5,2813.1 1213.8,2819.5 1210.4,2820.0 C1207.0,2820.5 1203.7,2815.8 1203.3,2812.5 C1203.0,2809.2 1206.0,2803.8 1208.3,2800.0 C1210.7,2796.2 1223.8,2781.5 1229.2,2770.8 C1234.5,2760.1 1239.6,2746.3 1241.7,2733.3 C1243.7,2720.3 1244.1,2695.9 1243.8,2679.2 C1243.4,2662.4 1241.8,2643.3 1239.6,2629.2 C1237.3,2615.0 1230.3,2591.6 1229.2,2587.5 C1228.0,2583.4 1224.2,2575.8 1224.2,2575.8Z" stroke-width="6.3" fill="none" />
<path d="M1272.1,2570.8 C1273.2,2575.4 1280.8,2601.1 1283.3,2616.7 C1285.8,2632.2 1287.8,2649.9 1287.5,2666.7 C1287.2,2683.4 1284.0,2712.5 1281.2,2725.0 C1278.5,2737.5 1268.1,2756.9 1266.7,2760.4" stroke-width="2.4" fill="none" />
<path d="M1245.0,2722.9 C1244.5,2726.5 1243.5,2747.1 1239.6,2758.3 C1235.6,2769.6 1222.7,2788.3 1220.8,2791.7" stroke-width="2.4" fill="none" />
<path d="M1250.0,2575.0 L1258.3,2629.2" stroke-width="2.4" fill="none" />
<path d="M1058.0,2712.0 C1061.6,2710.8 1070.3,2708.3 1075.0,2710.0 C1079.7,2711.7 1084.2,2716.9 1086.0,2722.0 C1087.8,2727.1 1088.0,2736.4 1086.0,2741.0 C1084.0,2745.6 1078.8,2748.8 1074.0,2750.0 C1069.2,2751.2 1061.2,2750.5 1057.0,2748.0 C1052.8,2745.5 1050.3,2739.8 1049.0,2735.0 C1047.7,2730.2 1047.6,2722.5 1049.0,2719.0 C1050.4,2715.5 1054.4,2713.2 1058.0,2712.0Z" stroke-width="6.3" fill="#fff" />
<ellipse cx="1069" cy="2731" rx="8.5" ry="11.5" transform="rotate(-10 1069 2731)" stroke-width="4.375" fill="none"/>
<ellipse cx="1070" cy="2731" rx="4" ry="6" transform="rotate(-10 1070 2731)" stroke-width="3.0" fill="none"/>
<path d="M1058.0,2712.0 L1064.0,2728.0 L1057.0,2748.0" stroke-width="3.0" fill="none" />
<path d="M1582.4,2373.5 L1550.4,2386.5 L1555.6,2399.5 L1587.6,2386.5Z" stroke-width="4.375" fill="#fff" />
<ellipse cx="1553" cy="2393" rx="3.8500000000000005" ry="7" transform="rotate(157.89055165624833 1553 2393)" stroke-width="3.3600000000000003" fill="#fff"/>
<line x1="1573.7253606713084" y1="2377.024733960144" x2="1577.1417061744469" y2="2390.748020133768" stroke-width="2.4"/>
<line x1="1568.2853606713086" y1="2379.234733960144" x2="1571.701706174447" y2="2392.9580201337676" stroke-width="2.4"/>
<line x1="1562.8453606713085" y1="2381.444733960144" x2="1566.261706174447" y2="2395.1680201337676" stroke-width="2.4"/>
<line x1="1557.4053606713085" y1="2383.654733960144" x2="1560.821706174447" y2="2397.3780201337677" stroke-width="2.4"/>
<ellipse cx="1587.779399731367" cy="2378.8708688591323" rx="10.5" ry="15" transform="rotate(157.89055165624833 1587.779399731367 2378.8708688591323)" stroke-width="4.375" fill="#fff"/>
<ellipse cx="1590.5587994627338" cy="2377.741737718264" rx="10.5" ry="15" transform="rotate(157.89055165624833 1590.5587994627338 2377.741737718264)" stroke-width="4.375" fill="#fff"/>
<line x1="1593.3816273149032" y1="2384.6902370466814" x2="1587.7359716105643" y2="2370.793238389847" stroke-width="3.0"/>
<rect x="251" y="2744" width="198" height="158" rx="16" ry="16" stroke-width="2.6" fill="none"/>
<path d="M296.4,2816.1 L297.9,2862.5 L351.4,2887.9 L397.3,2857.1 L399.6,2811.6 L352.7,2832.1 L296.4,2816.1Z" stroke-width="4.375" fill="none" />
<path d="M352.7,2832.1 L351.4,2887.9" stroke-width="2.4" fill="none" />
<path d="M296.4,2816.1 L341.1,2796.4 L399.6,2811.6" stroke-width="3.75" fill="none" />
<path d="M304.5,2818.2 L341.1,2799.6 L390.2,2812.5 L353.6,2830.7 L304.5,2818.2" stroke-width="4.375" fill="none" />
<path d="M341.4,2798.6 L342.3,2828.2" stroke-width="3.0" fill="none" />
<path d="M314.3,2758.0 L375.9,2770.5 L367.9,2789.3 L308.0,2775.0Z" stroke-width="4.375" fill="none" />
<path d="M375.9,2770.5 L387.5,2789.3 L399.6,2811.6" stroke-width="3.75" fill="none" />
<path d="M367.9,2789.3 L374.1,2775.9 L386.6,2792.9 L396.4,2808.9" stroke-width="2.4" fill="none" />
<path d="M328.6,2780.4 L341.1,2795.5" stroke-width="3.0" fill="none" />
<ellipse cx="2362" cy="3112" rx="25" ry="25" transform="rotate(0 2362 3112)" stroke-width="4.375" fill="none"/>
<text x="2359.5" y="3127.5" font-family="Liberation Serif" font-weight="bold" font-size="45" text-anchor="middle" style="font-family:'Liberation Serif',serif;font-weight:bold">C</text>
<path d="M1051.0,2252.9 C1053.3,2250.1 1065.6,2233.6 1074.2,2225.0 C1082.7,2216.5 1095.2,2204.5 1106.7,2197.2 C1118.1,2189.8 1133.9,2183.4 1143.8,2180.1 C1153.8,2176.8 1171.7,2175.2 1174.8,2174.7" stroke-width="4.375" fill="none" />
<path d="M1075.7,2249.8 C1078.8,2246.5 1094.2,2225.5 1106.7,2217.3 C1119.2,2209.0 1147.1,2201.3 1151.6,2199.5" stroke-width="4.375" fill="none" />
<path d="M1125.3,2232.8 L1174.8,2177.0" stroke-width="4.375" fill="none" />
<path d="M1046.3,2259.1 L1100.5,2251.3" stroke-width="4.375" fill="none" />
<path d="M1044.8,2268.4 L1078.8,2353.5" stroke-width="4.375" fill="none" />
<path d="M1066.4,2260.6 L1051.0,2330.3" stroke-width="4.375" fill="none" />
<path d="M1196.5,2175.5 L1213.5,2198.7" stroke-width="4.375" fill="none" />
<path d="M1055.6,2307.1 L1071.1,2345.8" stroke-width="4.375" fill="none" />
<path d="M1151.6,2220.4 L1181.0,2200.6 L1188.7,2215.7 L1151.6,2220.7Z" stroke-width="4.375" fill="none" />
<path d="M1208.9,2217.3 L1216.6,2204.1 L1227.4,2219.6 L1208.9,2217.6Z" stroke-width="4.375" fill="none" />
<path d="M1221.2,2189.4 C1224.3,2190.5 1242.6,2196.2 1252.2,2200.2 C1261.8,2204.3 1277.3,2212.8 1280.1,2214.2" stroke-width="3.75" fill="none" />
<path d="M1229.0,2206.4 C1231.3,2207.7 1244.4,2214.8 1252.2,2218.8 C1260.0,2222.8 1277.3,2231.4 1280.1,2232.8" stroke-width="3.75" fill="none" />
<path d="M1033.9,2322.5 C1034.4,2318.7 1036.1,2293.7 1038.6,2283.8 C1041.1,2274.0 1049.7,2258.8 1051.0,2256.0" stroke-width="3.75" fill="none" />
<path d="M1225.2,2193.3 C1231.1,2195.8 1265.6,2208.3 1284.0,2218.1 C1302.5,2227.8 1321.1,2240.1 1336.7,2252.1 C1352.2,2264.2 1367.1,2277.5 1380.0,2292.4 C1392.9,2307.3 1410.6,2337.0 1414.0,2341.9" stroke-width="3.75" fill="none" />
<path d="M1219.0,2216.5 C1224.6,2219.2 1256.8,2232.9 1274.8,2242.9 C1292.7,2252.9 1312.6,2265.1 1327.4,2276.9 C1342.2,2288.8 1357.1,2303.1 1367.6,2317.1 C1378.1,2331.2 1389.9,2358.9 1392.4,2363.6" stroke-width="3.75" fill="none" />
<path d="M1299.5,2227.4 L1330.5,2280.0" stroke-width="3.75" fill="none" />
<path d="M1318.1,2242.9 L1305.7,2286.2" stroke-width="3.75" fill="none" />
<path d="M1361.4,2280.0 L1380.0,2323.3" stroke-width="3.75" fill="none" />
<path d="M1392.4,2304.8 L1373.8,2348.1" stroke-width="3.75" fill="none" />
<path d="M1268.6,2211.9 L1293.3,2255.2" stroke-width="3.75" fill="none" />
</g>
</svg></body></html>
